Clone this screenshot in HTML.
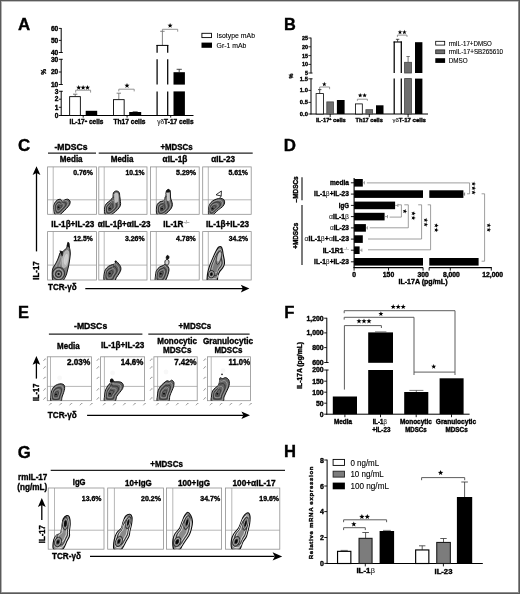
<!DOCTYPE html>
<html><head><meta charset="utf-8"><title>Figure</title>
<style>
html,body{margin:0;padding:0;background:#fff;}
body{width:520px;height:594px;overflow:hidden;font-family:"Liberation Sans",sans-serif;}
svg{display:block;font-family:"Liberation Sans",sans-serif;}
svg text{font-family:"Liberation Sans",sans-serif;}
</style></head><body>
<svg width="520" height="594" viewBox="0 0 520 594">
<defs><filter id="soft" x="0" y="0" width="520" height="594" filterUnits="userSpaceOnUse" color-interpolation-filters="sRGB"><feGaussianBlur stdDeviation="0.42"/></filter></defs>
<rect x="0" y="0" width="520" height="594" fill="#fff"/>
<g filter="url(#soft)">
<rect x="0" y="0" width="520" height="594" fill="#fff"/>
<text x="17.90" y="30.30" font-size="16.9" font-weight="bold" stroke="#000" stroke-width="0.36" textLength="12.20" lengthAdjust="spacingAndGlyphs">A</text>
<text x="284.10" y="30.10" font-size="16.9" font-weight="bold" stroke="#000" stroke-width="0.36" textLength="11.80" lengthAdjust="spacingAndGlyphs">B</text>
<text x="17.90" y="150.70" font-size="16.9" font-weight="bold" stroke="#000" stroke-width="0.36" textLength="12.20" lengthAdjust="spacingAndGlyphs">C</text>
<text x="283.80" y="150.50" font-size="16.9" font-weight="bold" stroke="#000" stroke-width="0.36" textLength="12.20" lengthAdjust="spacingAndGlyphs">D</text>
<text x="18.00" y="318.00" font-size="16.9" font-weight="bold" stroke="#000" stroke-width="0.36" textLength="11.00" lengthAdjust="spacingAndGlyphs">E</text>
<text x="284.20" y="318.00" font-size="16.9" font-weight="bold" stroke="#000" stroke-width="0.36" textLength="10.20" lengthAdjust="spacingAndGlyphs">F</text>
<text x="17.80" y="457.60" font-size="16.9" font-weight="bold" stroke="#000" stroke-width="0.36" textLength="13.00" lengthAdjust="spacingAndGlyphs">G</text>
<text x="284.10" y="457.10" font-size="16.9" font-weight="bold" stroke="#000" stroke-width="0.36" textLength="12.00" lengthAdjust="spacingAndGlyphs">H</text>
<path d="M61.20 28.00L61.20 52.90" stroke="#000" stroke-width="1.0" fill="none"/>
<path d="M61.20 58.90L61.20 84.90" stroke="#000" stroke-width="1.0" fill="none"/>
<path d="M61.20 90.90L61.20 115.90" stroke="#000" stroke-width="1.0" fill="none"/>
<path d="M58.80 28.40L61.20 28.40" stroke="#000" stroke-width="0.9" fill="none"/>
<text x="58.30" y="30.60" font-size="6.6" font-weight="bold" stroke="#000" stroke-width="0.36" text-anchor="end">60</text>
<path d="M58.80 40.40L61.20 40.40" stroke="#000" stroke-width="0.9" fill="none"/>
<text x="58.30" y="42.60" font-size="6.6" font-weight="bold" stroke="#000" stroke-width="0.36" text-anchor="end">50</text>
<path d="M58.80 52.50L62.80 52.50" stroke="#000" stroke-width="0.9" fill="none"/>
<text x="58.30" y="54.70" font-size="6.6" font-weight="bold" stroke="#000" stroke-width="0.36" text-anchor="end">40</text>
<path d="M58.80 59.30L62.80 59.30" stroke="#000" stroke-width="0.9" fill="none"/>
<text x="58.30" y="61.50" font-size="6.6" font-weight="bold" stroke="#000" stroke-width="0.36" text-anchor="end">30</text>
<path d="M58.80 72.00L61.20 72.00" stroke="#000" stroke-width="0.9" fill="none"/>
<text x="58.30" y="74.20" font-size="6.6" font-weight="bold" stroke="#000" stroke-width="0.36" text-anchor="end">20</text>
<path d="M58.80 84.50L62.80 84.50" stroke="#000" stroke-width="0.9" fill="none"/>
<text x="58.30" y="86.70" font-size="6.6" font-weight="bold" stroke="#000" stroke-width="0.36" text-anchor="end">10</text>
<path d="M58.80 91.30L62.80 91.30" stroke="#000" stroke-width="0.9" fill="none"/>
<text x="58.30" y="93.50" font-size="6.6" font-weight="bold" stroke="#000" stroke-width="0.36" text-anchor="end">3</text>
<path d="M58.80 99.20L61.20 99.20" stroke="#000" stroke-width="0.9" fill="none"/>
<text x="58.30" y="101.40" font-size="6.6" font-weight="bold" stroke="#000" stroke-width="0.36" text-anchor="end">2</text>
<path d="M58.80 107.30L61.20 107.30" stroke="#000" stroke-width="0.9" fill="none"/>
<text x="58.30" y="109.50" font-size="6.6" font-weight="bold" stroke="#000" stroke-width="0.36" text-anchor="end">1</text>
<path d="M58.80 115.50L61.20 115.50" stroke="#000" stroke-width="0.9" fill="none"/>
<text x="58.30" y="117.70" font-size="6.6" font-weight="bold" stroke="#000" stroke-width="0.36" text-anchor="end">0</text>
<text x="46.20" y="74.80" font-size="6.6" font-weight="bold" stroke="#000" stroke-width="0.36" transform="rotate(-90 46.20 74.80)">%</text>
<path d="M60.70 115.50L193.50 115.50" stroke="#000" stroke-width="1.0" fill="none"/>
<path d="M75.20 94.20L75.20 96.50" stroke="#555" stroke-width="0.8" fill="none"/>
<path d="M73.00 94.20L77.40 94.20" stroke="#555" stroke-width="0.8" fill="none"/>
<rect x="69.65" y="96.65" width="10.70" height="18.85" fill="#fff" stroke="#000" stroke-width="0.9"/>
<rect x="85.70" y="110.80" width="11.50" height="4.70" fill="#000" stroke="none" stroke-width="0"/>
<path d="M75.70 92.60L75.70 90.20L90.60 90.20L90.60 92.60" stroke="#7a7a7a" stroke-width="0.8" fill="none" />
<polygon points="78.70,85.00 79.34,86.72 81.17,86.80 79.74,87.94 80.23,89.70 78.70,88.69 77.17,89.70 77.66,87.94 76.23,86.80 78.06,86.72" fill="#000"/>
<polygon points="83.10,85.00 83.74,86.72 85.57,86.80 84.14,87.94 84.63,89.70 83.10,88.69 81.57,89.70 82.06,87.94 80.63,86.80 82.46,86.72" fill="#000"/>
<polygon points="87.50,85.00 88.14,86.72 89.97,86.80 88.54,87.94 89.03,89.70 87.50,88.69 85.97,89.70 86.46,87.94 85.03,86.80 86.86,86.72" fill="#000"/>
<path d="M118.80 93.20L118.80 99.50" stroke="#666" stroke-width="0.8" fill="none"/>
<path d="M116.60 93.20L121.00 93.20" stroke="#666" stroke-width="0.8" fill="none"/>
<rect x="113.45" y="99.65" width="10.70" height="15.85" fill="#fff" stroke="#000" stroke-width="0.9"/>
<rect x="129.20" y="112.00" width="12.00" height="3.50" fill="#000" stroke="none" stroke-width="0"/>
<path d="M132.70 111.70L137.70 111.70" stroke="#000" stroke-width="0.6" fill="none"/>
<path d="M118.80 91.40L118.80 89.20L134.20 89.20L134.20 91.40" stroke="#7a7a7a" stroke-width="0.8" fill="none" />
<polygon points="127.00,83.00 127.67,84.78 129.57,84.87 128.08,86.05 128.59,87.88 127.00,86.83 125.41,87.88 125.92,86.05 124.43,84.87 126.33,84.78" fill="#000"/>
<path d="M162.40 31.30L162.40 45.30" stroke="#666" stroke-width="0.8" fill="none"/>
<path d="M160.20 31.30L164.60 31.30" stroke="#666" stroke-width="0.8" fill="none"/>
<path d="M157.10 45.00L157.10 52.70" stroke="#000" stroke-width="1.25" fill="none"/>
<path d="M167.70 45.00L167.70 52.70" stroke="#000" stroke-width="1.25" fill="none"/>
<path d="M157.10 59.20L157.10 84.60" stroke="#000" stroke-width="1.25" fill="none"/>
<path d="M167.70 59.20L167.70 84.60" stroke="#000" stroke-width="1.25" fill="none"/>
<path d="M157.10 91.40L157.10 115.50" stroke="#000" stroke-width="1.25" fill="none"/>
<path d="M167.70 91.40L167.70 115.50" stroke="#000" stroke-width="1.25" fill="none"/>
<path d="M156.50 45.40L168.30 45.40" stroke="#000" stroke-width="1.0" fill="none"/>
<rect x="173.50" y="72.20" width="11.40" height="12.40" fill="#000" stroke="none" stroke-width="0"/>
<rect x="173.50" y="91.40" width="11.40" height="24.10" fill="#000" stroke="none" stroke-width="0"/>
<path d="M179.20 69.30L179.20 72.40" stroke="#222" stroke-width="0.8" fill="none"/>
<path d="M176.60 69.30L181.80 69.30" stroke="#222" stroke-width="0.8" fill="none"/>
<path d="M162.40 31.30L162.40 29.30L177.70 29.30L177.70 31.70" stroke="#7a7a7a" stroke-width="0.8" fill="none" />
<polygon points="170.10,22.90 170.77,24.68 172.67,24.77 171.18,25.95 171.69,27.78 170.10,26.73 168.51,27.78 169.02,25.95 167.53,24.77 169.43,24.68" fill="#000"/>
<path d="M83.20 115.50L83.20 117.60" stroke="#000" stroke-width="0.9" fill="none"/>
<path d="M127.10 115.50L127.10 117.60" stroke="#000" stroke-width="0.9" fill="none"/>
<path d="M170.70 115.50L170.70 117.60" stroke="#000" stroke-width="0.9" fill="none"/>
<text x="69.60" y="124.30" font-size="6.5" font-weight="bold" stroke="#000" stroke-width="0.36" textLength="33.80" lengthAdjust="spacingAndGlyphs">IL-17<tspan font-size="4.2" dy="-2.4">+</tspan><tspan dy="2.4"> cells</tspan></text>
<text x="113.50" y="124.30" font-size="6.5" font-weight="bold" stroke="#000" stroke-width="0.36" textLength="31.90" lengthAdjust="spacingAndGlyphs">Th17 cells</text>
<text x="157.20" y="124.30" font-size="6.5" font-weight="bold" stroke="#000" stroke-width="0.36" textLength="36.40" lengthAdjust="spacingAndGlyphs"><tspan font-weight="normal" fill="#1a1a1a" stroke="#1a1a1a" stroke-width="0.1">γδ</tspan>T-17 cells</text>
<rect x="201.90" y="33.30" width="9.60" height="4.30" fill="#fff" stroke="#000" stroke-width="0.9"/>
<rect x="201.50" y="42.60" width="10.50" height="5.20" fill="#000" stroke="none" stroke-width="0"/>
<text x="216.60" y="38.20" font-size="8.1" stroke="#000" stroke-width="0.12" textLength="38.40" lengthAdjust="spacingAndGlyphs">Isotype mAb</text>
<text x="216.60" y="48.00" font-size="8.1" stroke="#000" stroke-width="0.12" textLength="29.80" lengthAdjust="spacingAndGlyphs">Gr-1 mAb</text>
<path d="M311.00 37.60L311.00 73.40" stroke="#000" stroke-width="1.0" fill="none"/>
<path d="M311.00 78.40L311.00 114.40" stroke="#000" stroke-width="1.0" fill="none"/>
<path d="M308.40 38.00L311.00 38.00" stroke="#000" stroke-width="0.8" fill="none"/>
<text x="307.90" y="39.94" font-size="5.4" font-weight="bold" stroke="#000" stroke-width="0.36" text-anchor="end">25</text>
<path d="M308.40 46.80L311.00 46.80" stroke="#000" stroke-width="0.8" fill="none"/>
<text x="307.90" y="48.74" font-size="5.4" font-weight="bold" stroke="#000" stroke-width="0.36" text-anchor="end">20</text>
<path d="M308.40 55.60L311.00 55.60" stroke="#000" stroke-width="0.8" fill="none"/>
<text x="307.90" y="57.54" font-size="5.4" font-weight="bold" stroke="#000" stroke-width="0.36" text-anchor="end">15</text>
<path d="M308.40 64.40L311.00 64.40" stroke="#000" stroke-width="0.8" fill="none"/>
<text x="307.90" y="66.34" font-size="5.4" font-weight="bold" stroke="#000" stroke-width="0.36" text-anchor="end">10</text>
<path d="M308.40 73.00L312.60 73.00" stroke="#000" stroke-width="0.8" fill="none"/>
<text x="307.90" y="74.94" font-size="5.4" font-weight="bold" stroke="#000" stroke-width="0.36" text-anchor="end">5</text>
<path d="M308.40 78.80L312.60 78.80" stroke="#000" stroke-width="0.8" fill="none"/>
<text x="307.90" y="80.89" font-size="5.8" font-weight="bold" stroke="#000" stroke-width="0.36" text-anchor="end">1.5</text>
<path d="M308.40 90.40L311.00 90.40" stroke="#000" stroke-width="0.8" fill="none"/>
<text x="307.90" y="92.49" font-size="5.8" font-weight="bold" stroke="#000" stroke-width="0.36" text-anchor="end">1.0</text>
<path d="M308.40 102.40L311.00 102.40" stroke="#000" stroke-width="0.8" fill="none"/>
<text x="307.90" y="104.49" font-size="5.8" font-weight="bold" stroke="#000" stroke-width="0.36" text-anchor="end">0.5</text>
<path d="M308.40 114.00L311.00 114.00" stroke="#000" stroke-width="0.8" fill="none"/>
<text x="307.90" y="116.09" font-size="5.8" font-weight="bold" stroke="#000" stroke-width="0.36" text-anchor="end">0.0</text>
<text x="292.60" y="78.40" font-size="5.6" font-weight="bold" stroke="#000" stroke-width="0.36" transform="rotate(-90 292.60 78.40)">%</text>
<path d="M310.50 114.00L428.00 114.00" stroke="#000" stroke-width="1.0" fill="none"/>
<path d="M319.70 89.60L319.70 93.50" stroke="#222" stroke-width="0.8" fill="none"/>
<path d="M318.00 89.60L321.40 89.60" stroke="#222" stroke-width="0.8" fill="none"/>
<rect x="316.10" y="93.60" width="7.30" height="20.40" fill="#fff" stroke="#000" stroke-width="0.8"/>
<rect x="326.80" y="101.90" width="6.60" height="12.10" fill="#6e6e6e" stroke="#444" stroke-width="0.8"/>
<rect x="336.90" y="100.00" width="7.70" height="14.00" fill="#000" stroke="none" stroke-width="0"/>
<path d="M319.70 89.00L319.70 87.00L329.60 87.00L329.60 89.20" stroke="#7a7a7a" stroke-width="0.8" fill="none" />
<polygon points="324.30,81.80 324.89,83.38 326.58,83.46 325.26,84.51 325.71,86.14 324.30,85.21 322.89,86.14 323.34,84.51 322.02,83.46 323.71,83.38" fill="#000"/>
<rect x="355.40" y="103.90" width="6.90" height="10.10" fill="#fff" stroke="#000" stroke-width="0.8"/>
<rect x="365.90" y="109.70" width="6.70" height="4.30" fill="#6e6e6e" stroke="#444" stroke-width="0.8"/>
<rect x="376.00" y="105.30" width="7.50" height="8.70" fill="#000" stroke="none" stroke-width="0"/>
<path d="M357.40 100.80L357.40 99.20L367.40 99.20L367.40 100.80" stroke="#7a7a7a" stroke-width="0.8" fill="none" />
<polygon points="360.20,93.00 360.79,94.58 362.48,94.66 361.16,95.71 361.61,97.34 360.20,96.41 358.79,97.34 359.24,95.71 357.92,94.66 359.61,94.58" fill="#000"/>
<polygon points="364.60,93.00 365.19,94.58 366.88,94.66 365.56,95.71 366.01,97.34 364.60,96.41 363.19,97.34 363.64,95.71 362.32,94.66 364.01,94.58" fill="#000"/>
<path d="M397.60 39.30L397.60 41.80" stroke="#222" stroke-width="0.8" fill="none"/>
<path d="M395.90 39.30L399.30 39.30" stroke="#222" stroke-width="0.8" fill="none"/>
<path d="M394.20 41.50L394.20 73.00" stroke="#000" stroke-width="1.25" fill="none"/>
<path d="M401.30 41.50L401.30 73.00" stroke="#000" stroke-width="1.25" fill="none"/>
<path d="M394.20 78.60L394.20 114.00" stroke="#000" stroke-width="1.25" fill="none"/>
<path d="M401.30 78.60L401.30 114.00" stroke="#000" stroke-width="1.25" fill="none"/>
<path d="M393.60 42.00L401.90 42.00" stroke="#000" stroke-width="1.1" fill="none"/>
<path d="M408.10 56.50L408.10 62.00" stroke="#555" stroke-width="0.8" fill="none"/>
<path d="M406.40 56.50L409.80 56.50" stroke="#555" stroke-width="0.8" fill="none"/>
<rect x="404.60" y="62.30" width="6.90" height="10.70" fill="#6e6e6e" stroke="#444" stroke-width="0.8"/>
<rect x="404.60" y="78.60" width="6.90" height="35.40" fill="#6e6e6e" stroke="#444" stroke-width="0.8"/>
<rect x="415.00" y="42.20" width="7.40" height="30.80" fill="#000" stroke="none" stroke-width="0"/>
<rect x="415.00" y="78.60" width="7.40" height="35.40" fill="#000" stroke="none" stroke-width="0"/>
<path d="M397.40 36.90L397.40 35.10L407.00 35.10L407.00 36.90" stroke="#7a7a7a" stroke-width="0.8" fill="none" />
<polygon points="400.00,29.80 400.59,31.38 402.28,31.46 400.96,32.51 401.41,34.14 400.00,33.21 398.59,34.14 399.04,32.51 397.72,31.46 399.41,31.38" fill="#000"/>
<polygon points="404.40,29.80 404.99,31.38 406.68,31.46 405.36,32.51 405.81,34.14 404.40,33.21 402.99,34.14 403.44,32.51 402.12,31.46 403.81,31.38" fill="#000"/>
<path d="M330.20 114.00L330.20 117.20" stroke="#000" stroke-width="0.9" fill="none"/>
<path d="M369.30 114.00L369.30 117.20" stroke="#000" stroke-width="0.9" fill="none"/>
<path d="M408.10 114.00L408.10 117.20" stroke="#000" stroke-width="0.9" fill="none"/>
<text x="316.00" y="121.80" font-size="5.9" font-weight="bold" stroke="#000" stroke-width="0.36" textLength="29.80" lengthAdjust="spacingAndGlyphs">IL-17<tspan font-size="3.8" dy="-2.2">+</tspan><tspan dy="2.2"> cells</tspan></text>
<text x="355.50" y="121.80" font-size="5.9" font-weight="bold" stroke="#000" stroke-width="0.36" textLength="27.30" lengthAdjust="spacingAndGlyphs">Th17 cells</text>
<text x="392.40" y="121.80" font-size="5.9" font-weight="bold" stroke="#000" stroke-width="0.36" textLength="33.60" lengthAdjust="spacingAndGlyphs"><tspan font-weight="normal" fill="#1a1a1a" stroke="#1a1a1a" stroke-width="0.1">γδ</tspan>T-17 cells</text>
<rect x="435.70" y="41.30" width="9.00" height="3.80" fill="#fff" stroke="#000" stroke-width="0.8"/>
<rect x="435.70" y="49.90" width="9.00" height="3.80" fill="#6e6e6e" stroke="#222" stroke-width="0.8"/>
<rect x="435.30" y="58.20" width="9.80" height="4.70" fill="#000" stroke="none" stroke-width="0"/>
<text x="448.70" y="45.80" font-size="7.3" stroke="#000" stroke-width="0.12" textLength="43.20" lengthAdjust="spacingAndGlyphs">rmIL-17+DMSO</text>
<text x="448.70" y="54.30" font-size="7.3" stroke="#000" stroke-width="0.12" textLength="54.40" lengthAdjust="spacingAndGlyphs">rmIL-17+SB265610</text>
<text x="448.70" y="63.00" font-size="7.3" stroke="#000" stroke-width="0.12" textLength="19.00" lengthAdjust="spacingAndGlyphs">DMSO</text>
<text x="54.50" y="149.60" font-size="8.7" font-weight="bold" stroke="#000" stroke-width="0.36" textLength="33.00" lengthAdjust="spacingAndGlyphs">-MDSCs</text>
<text x="160.40" y="149.60" font-size="8.7" font-weight="bold" stroke="#000" stroke-width="0.36" textLength="32.20" lengthAdjust="spacingAndGlyphs">+MDSCs</text>
<path d="M48.00 153.10L96.00 153.10" stroke="#222" stroke-width="1.3" fill="none"/>
<path d="M98.70 153.10L252.70 153.10" stroke="#222" stroke-width="1.3" fill="none"/>
<text x="59.80" y="162.30" font-size="8.7" font-weight="bold" stroke="#000" stroke-width="0.36" textLength="22.80" lengthAdjust="spacingAndGlyphs">Media</text>
<text x="110.70" y="162.30" font-size="8.7" font-weight="bold" stroke="#000" stroke-width="0.36" textLength="22.80" lengthAdjust="spacingAndGlyphs">Media</text>
<text x="162.60" y="162.30" font-size="8.7" font-weight="bold" stroke="#000" stroke-width="0.36" textLength="24.80" lengthAdjust="spacingAndGlyphs">αIL-1β</text>
<text x="211.20" y="162.30" font-size="8.7" font-weight="bold" stroke="#000" stroke-width="0.36" textLength="23.80" lengthAdjust="spacingAndGlyphs">αIL-23</text>
<text x="51.20" y="226.70" font-size="8.7" font-weight="bold" stroke="#000" stroke-width="0.36" textLength="43.10" lengthAdjust="spacingAndGlyphs">IL-1β+IL-23</text>
<text x="97.80" y="226.70" font-size="8.7" font-weight="bold" stroke="#000" stroke-width="0.36" textLength="52.80" lengthAdjust="spacingAndGlyphs">αIL-1β+αIL-23</text>
<text x="163.20" y="226.70" font-size="8.7" font-weight="bold" stroke="#000" stroke-width="0.36" textLength="26.20" lengthAdjust="spacingAndGlyphs">IL-1R<tspan font-size="4.6" dy="-3.0" font-weight="normal" stroke="none" fill="#333">–/–</tspan></text>
<text x="206.00" y="226.70" font-size="8.7" font-weight="bold" stroke="#000" stroke-width="0.36" textLength="43.10" lengthAdjust="spacingAndGlyphs">IL-1β+IL-23</text>
<clipPath id="c10"><rect x="47.60" y="166.90" width="48.80" height="47.40"/></clipPath>
<rect x="47.60" y="166.90" width="48.80" height="47.40" fill="#fff" stroke="#909090" stroke-width="0.8"/>
<path d="M53.20 166.90L53.20 214.30" stroke="#989898" stroke-width="0.7" fill="none"/>
<path d="M47.60 199.80L96.40 199.80" stroke="#989898" stroke-width="0.7" fill="none"/>
<clipPath id="c20"><rect x="47.60" y="231.60" width="48.80" height="48.40"/></clipPath>
<rect x="47.60" y="231.60" width="48.80" height="48.40" fill="#fff" stroke="#909090" stroke-width="0.8"/>
<path d="M53.20 231.60L53.20 280.00" stroke="#989898" stroke-width="0.7" fill="none"/>
<path d="M47.60 265.10L96.40 265.10" stroke="#989898" stroke-width="0.7" fill="none"/>
<clipPath id="c11"><rect x="98.80" y="166.90" width="48.20" height="47.40"/></clipPath>
<rect x="98.80" y="166.90" width="48.20" height="47.40" fill="#fff" stroke="#909090" stroke-width="0.8"/>
<path d="M104.20 166.90L104.20 214.30" stroke="#989898" stroke-width="0.7" fill="none"/>
<path d="M98.80 199.80L147.00 199.80" stroke="#989898" stroke-width="0.7" fill="none"/>
<clipPath id="c21"><rect x="98.80" y="231.60" width="48.20" height="48.40"/></clipPath>
<rect x="98.80" y="231.60" width="48.20" height="48.40" fill="#fff" stroke="#909090" stroke-width="0.8"/>
<path d="M104.20 231.60L104.20 280.00" stroke="#989898" stroke-width="0.7" fill="none"/>
<path d="M98.80 265.10L147.00 265.10" stroke="#989898" stroke-width="0.7" fill="none"/>
<clipPath id="c12"><rect x="150.40" y="166.90" width="48.80" height="47.40"/></clipPath>
<rect x="150.40" y="166.90" width="48.80" height="47.40" fill="#fff" stroke="#909090" stroke-width="0.8"/>
<path d="M156.30 166.90L156.30 214.30" stroke="#989898" stroke-width="0.7" fill="none"/>
<path d="M150.40 199.80L199.20 199.80" stroke="#989898" stroke-width="0.7" fill="none"/>
<clipPath id="c22"><rect x="150.40" y="231.60" width="48.80" height="48.40"/></clipPath>
<rect x="150.40" y="231.60" width="48.80" height="48.40" fill="#fff" stroke="#909090" stroke-width="0.8"/>
<path d="M156.30 231.60L156.30 280.00" stroke="#989898" stroke-width="0.7" fill="none"/>
<path d="M150.40 265.10L199.20 265.10" stroke="#989898" stroke-width="0.7" fill="none"/>
<clipPath id="c13"><rect x="202.70" y="166.90" width="48.50" height="47.40"/></clipPath>
<rect x="202.70" y="166.90" width="48.50" height="47.40" fill="#fff" stroke="#909090" stroke-width="0.8"/>
<path d="M208.30 166.90L208.30 214.30" stroke="#989898" stroke-width="0.7" fill="none"/>
<path d="M202.70 199.80L251.20 199.80" stroke="#989898" stroke-width="0.7" fill="none"/>
<clipPath id="c23"><rect x="202.70" y="231.60" width="48.50" height="48.40"/></clipPath>
<rect x="202.70" y="231.60" width="48.50" height="48.40" fill="#fff" stroke="#909090" stroke-width="0.8"/>
<path d="M208.30 231.60L208.30 280.00" stroke="#989898" stroke-width="0.7" fill="none"/>
<path d="M202.70 265.10L251.20 265.10" stroke="#989898" stroke-width="0.7" fill="none"/>
<text x="73.20" y="174.80" font-size="7.5" font-weight="bold" stroke="#000" stroke-width="0.36" textLength="19.60" lengthAdjust="spacingAndGlyphs">0.76%</text>
<text x="125.40" y="174.80" font-size="7.5" font-weight="bold" stroke="#000" stroke-width="0.36" textLength="19.20" lengthAdjust="spacingAndGlyphs">10.1%</text>
<text x="176.00" y="174.80" font-size="7.5" font-weight="bold" stroke="#000" stroke-width="0.36" textLength="20.00" lengthAdjust="spacingAndGlyphs">5.29%</text>
<text x="228.40" y="174.80" font-size="7.5" font-weight="bold" stroke="#000" stroke-width="0.36" textLength="19.60" lengthAdjust="spacingAndGlyphs">5.61%</text>
<text x="73.60" y="241.10" font-size="7.5" font-weight="bold" stroke="#000" stroke-width="0.36" textLength="19.20" lengthAdjust="spacingAndGlyphs">12.5%</text>
<text x="125.00" y="241.10" font-size="7.5" font-weight="bold" stroke="#000" stroke-width="0.36" textLength="19.60" lengthAdjust="spacingAndGlyphs">3.26%</text>
<text x="176.00" y="241.10" font-size="7.5" font-weight="bold" stroke="#000" stroke-width="0.36" textLength="19.80" lengthAdjust="spacingAndGlyphs">4.78%</text>
<text x="228.80" y="241.10" font-size="7.5" font-weight="bold" stroke="#000" stroke-width="0.36" textLength="19.20" lengthAdjust="spacingAndGlyphs">34.2%</text>
<g clip-path="url(#c10)">
<path d="M53.80 207.50C53.73 205.60 53.98 204.47 54.60 203.20C55.22 201.93 56.50 200.53 57.50 199.90C58.50 199.27 59.75 199.15 60.60 199.40C61.45 199.65 61.93 201.30 62.60 201.40C63.27 201.50 63.77 200.37 64.60 200.00C65.43 199.63 66.70 199.03 67.60 199.20C68.50 199.37 69.67 200.10 70.00 201.00C70.33 201.90 70.20 203.33 69.60 204.60C69.00 205.87 67.63 207.23 66.40 208.60C65.17 209.97 63.47 211.65 62.20 212.80C60.93 213.95 60.00 215.20 58.80 215.50C57.60 215.80 55.83 215.93 55.00 214.60C54.17 213.27 53.87 209.40 53.80 207.50Z" stroke="#161616" stroke-width="1.0" fill="#626262" />
<path d="M54.66 207.45C54.61 205.89 54.81 204.96 55.32 203.92C55.83 202.88 56.88 201.73 57.70 201.21C58.52 200.69 59.54 200.60 60.24 200.80C60.94 201.01 61.33 202.36 61.88 202.44C62.43 202.53 62.84 201.60 63.52 201.30C64.20 201.00 65.24 200.50 65.98 200.64C66.72 200.78 67.67 201.38 67.95 202.12C68.22 202.85 68.11 204.03 67.62 205.07C67.13 206.11 66.01 207.23 65.00 208.35C63.98 209.47 62.59 210.85 61.55 211.79C60.51 212.74 59.75 213.76 58.76 214.01C57.78 214.25 56.33 214.36 55.65 213.27C54.96 212.17 54.72 209.00 54.66 207.45Z" stroke="#b4b4b4" stroke-width="0.7" fill="none" />
<path d="M55.53 207.39C55.49 206.18 55.65 205.45 56.04 204.64C56.43 203.83 57.26 202.93 57.90 202.53C58.54 202.12 59.34 202.05 59.88 202.21C60.42 202.37 60.73 203.42 61.16 203.49C61.59 203.55 61.91 202.83 62.44 202.59C62.97 202.36 63.78 201.97 64.36 202.08C64.94 202.19 65.68 202.66 65.90 203.23C66.11 203.81 66.02 204.73 65.64 205.54C65.26 206.35 64.38 207.22 63.59 208.10C62.80 208.97 61.71 210.05 60.90 210.78C60.09 211.52 59.50 212.32 58.73 212.51C57.96 212.70 56.83 212.79 56.30 211.94C55.76 211.08 55.57 208.61 55.53 207.39Z" stroke="#1a1a1a" stroke-width="0.6" fill="none" />
<path d="M56.39 207.34C56.36 206.46 56.48 205.94 56.76 205.36C57.04 204.78 57.63 204.13 58.09 203.84C58.55 203.55 59.13 203.50 59.52 203.61C59.91 203.73 60.13 204.49 60.44 204.53C60.75 204.58 60.98 204.06 61.36 203.89C61.74 203.72 62.33 203.44 62.74 203.52C63.15 203.60 63.69 203.93 63.84 204.35C64.00 204.76 63.94 205.42 63.66 206.00C63.38 206.59 62.76 207.22 62.19 207.84C61.62 208.47 60.84 209.25 60.26 209.78C59.67 210.31 59.24 210.88 58.69 211.02C58.14 211.16 57.33 211.22 56.94 210.60C56.56 209.99 56.42 208.21 56.39 207.34Z" stroke="#b0b0b0" stroke-width="0.6" fill="none" />
<path d="M57.26 207.28C57.24 206.75 57.31 206.43 57.48 206.08C57.65 205.73 58.01 205.33 58.29 205.16C58.57 204.98 58.92 204.95 59.16 205.02C59.40 205.09 59.53 205.55 59.72 205.58C59.91 205.60 60.05 205.29 60.28 205.18C60.51 205.08 60.87 204.91 61.12 204.96C61.37 205.01 61.70 205.21 61.79 205.46C61.89 205.72 61.85 206.12 61.68 206.47C61.51 206.83 61.13 207.21 60.78 207.59C60.44 207.97 59.96 208.45 59.61 208.77C59.25 209.09 58.99 209.44 58.66 209.52C58.32 209.61 57.83 209.65 57.59 209.27C57.36 208.90 57.27 207.82 57.26 207.28Z" stroke="#222222" stroke-width="0.55" fill="none" />
<circle cx="58.60" cy="207.20" r="1.0" fill="#0c0c0c"/>
</g>
<g clip-path="url(#c11)">
<path d="M104.60 208.00C104.80 206.17 105.47 204.83 106.40 203.60C107.33 202.37 109.13 201.70 110.20 200.60C111.27 199.50 112.27 198.30 112.80 197.00C113.33 195.70 112.87 193.80 113.40 192.80C113.93 191.80 115.07 191.10 116.00 191.00C116.93 190.90 118.37 191.27 119.00 192.20C119.63 193.13 119.57 195.03 119.80 196.60C120.03 198.17 120.30 200.10 120.40 201.60C120.50 203.10 120.87 204.27 120.40 205.60C119.93 206.93 118.77 208.33 117.60 209.60C116.43 210.87 114.77 212.20 113.40 213.20C112.03 214.20 110.77 215.37 109.40 215.60C108.03 215.83 106.00 215.87 105.20 214.60C104.40 213.33 104.40 209.83 104.60 208.00Z" stroke="#161616" stroke-width="1.0" fill="#626262" />
<path d="M105.55 208.07C105.72 206.57 106.26 205.48 107.03 204.46C107.80 203.45 109.27 202.91 110.15 202.00C111.02 201.10 111.84 200.12 112.28 199.05C112.72 197.99 112.33 196.43 112.77 195.61C113.21 194.79 114.14 194.21 114.90 194.13C115.67 194.05 116.84 194.35 117.36 195.12C117.88 195.88 117.83 197.44 118.02 198.72C118.21 200.01 118.43 201.59 118.51 202.82C118.59 204.05 118.89 205.01 118.51 206.10C118.13 207.20 117.17 208.35 116.21 209.38C115.26 210.42 113.89 211.52 112.77 212.34C111.65 213.16 110.61 214.11 109.49 214.30C108.37 214.50 106.70 214.52 106.05 213.48C105.39 212.45 105.39 209.58 105.55 208.07Z" stroke="#b4b4b4" stroke-width="0.7" fill="none" />
<path d="M106.51 208.14C106.64 206.97 107.06 206.12 107.66 205.33C108.26 204.54 109.41 204.11 110.09 203.41C110.77 202.70 111.41 201.94 111.76 201.10C112.10 200.27 111.80 199.06 112.14 198.42C112.48 197.78 113.21 197.33 113.80 197.26C114.40 197.20 115.32 197.43 115.72 198.03C116.13 198.63 116.09 199.85 116.24 200.85C116.39 201.85 116.56 203.09 116.62 204.05C116.68 205.01 116.92 205.75 116.62 206.61C116.32 207.46 115.57 208.36 114.83 209.17C114.08 209.98 113.01 210.83 112.14 211.47C111.27 212.11 110.45 212.86 109.58 213.01C108.71 213.16 107.40 213.18 106.89 212.37C106.38 211.56 106.38 209.32 106.51 208.14Z" stroke="#1a1a1a" stroke-width="0.6" fill="none" />
<path d="M107.46 208.22C107.55 207.37 107.86 206.76 108.29 206.19C108.72 205.62 109.55 205.32 110.04 204.81C110.53 204.31 110.99 203.75 111.23 203.16C111.48 202.56 111.26 201.68 111.51 201.22C111.76 200.76 112.28 200.44 112.71 200.40C113.14 200.35 113.79 200.52 114.09 200.95C114.38 201.38 114.35 202.25 114.45 202.97C114.56 203.69 114.68 204.58 114.73 205.27C114.78 205.96 114.94 206.50 114.73 207.11C114.52 207.73 113.98 208.37 113.44 208.95C112.91 209.53 112.14 210.15 111.51 210.61C110.88 211.07 110.30 211.60 109.67 211.71C109.04 211.82 108.11 211.83 107.74 211.25C107.37 210.67 107.37 209.06 107.46 208.22Z" stroke="#b0b0b0" stroke-width="0.6" fill="none" />
<path d="M108.42 208.29C108.47 207.77 108.66 207.40 108.92 207.06C109.18 206.71 109.69 206.52 109.98 206.22C110.28 205.91 110.56 205.57 110.71 205.21C110.86 204.84 110.73 204.31 110.88 204.03C111.03 203.75 111.35 203.56 111.61 203.53C111.87 203.50 112.27 203.60 112.45 203.86C112.63 204.13 112.61 204.66 112.67 205.10C112.74 205.53 112.81 206.08 112.84 206.50C112.87 206.92 112.97 207.24 112.84 207.62C112.71 207.99 112.38 208.38 112.06 208.74C111.73 209.09 111.26 209.46 110.88 209.74C110.50 210.02 110.14 210.35 109.76 210.42C109.38 210.48 108.81 210.49 108.58 210.14C108.36 209.78 108.36 208.80 108.42 208.29Z" stroke="#222222" stroke-width="0.55" fill="none" />
<circle cx="109.90" cy="208.40" r="1.0" fill="#0c0c0c"/>
</g>
<path d="M115.00 193.60C115.50 192.80 117.07 192.83 117.60 193.40C118.13 193.97 118.20 195.63 118.20 197.00C118.20 198.37 118.07 200.67 117.60 201.60C117.13 202.53 115.90 203.17 115.40 202.60C114.90 202.03 114.67 199.70 114.60 198.20C114.53 196.70 114.50 194.40 115.00 193.60Z" stroke="#ddd" stroke-width="0.5" fill="#bdbdbd" />
<g clip-path="url(#c12)">
<path d="M156.40 209.50C156.43 207.87 156.60 205.88 157.20 204.60C157.80 203.32 158.93 202.43 160.00 201.80C161.07 201.17 162.70 201.33 163.60 200.80C164.50 200.27 165.03 199.63 165.40 198.60C165.77 197.57 165.63 195.87 165.80 194.60C165.97 193.33 166.00 191.87 166.40 191.00C166.80 190.13 167.60 189.50 168.20 189.40C168.80 189.30 169.63 189.63 170.00 190.40C170.37 191.17 170.30 192.73 170.40 194.00C170.50 195.27 170.40 196.83 170.60 198.00C170.80 199.17 171.30 199.93 171.60 201.00C171.90 202.07 172.43 203.23 172.40 204.40C172.37 205.57 172.07 206.80 171.40 208.00C170.73 209.20 169.57 210.50 168.40 211.60C167.23 212.70 165.80 213.87 164.40 214.60C163.00 215.33 161.23 216.03 160.00 216.00C158.77 215.97 157.60 215.48 157.00 214.40C156.40 213.32 156.37 211.13 156.40 209.50Z" stroke="#161616" stroke-width="1.0" fill="#626262" />
<path d="M157.41 209.37C157.44 208.03 157.57 206.41 158.06 205.36C158.56 204.30 159.49 203.58 160.36 203.06C161.23 202.54 162.57 202.68 163.31 202.24C164.05 201.80 164.49 201.28 164.79 200.44C165.09 199.59 164.98 198.19 165.12 197.16C165.25 196.12 165.28 194.91 165.61 194.20C165.94 193.49 166.59 192.97 167.08 192.89C167.58 192.81 168.26 193.08 168.56 193.71C168.86 194.34 168.81 195.63 168.89 196.66C168.97 197.70 168.89 198.99 169.05 199.94C169.22 200.90 169.63 201.53 169.87 202.40C170.12 203.28 170.56 204.24 170.53 205.19C170.50 206.15 170.25 207.16 169.71 208.14C169.16 209.13 168.20 210.19 167.25 211.10C166.29 212.00 165.12 212.95 163.97 213.56C162.82 214.16 161.37 214.73 160.36 214.70C159.35 214.68 158.39 214.28 157.90 213.39C157.41 212.50 157.38 210.71 157.41 209.37Z" stroke="#b4b4b4" stroke-width="0.7" fill="none" />
<path d="M158.42 209.25C158.44 208.20 158.54 206.93 158.93 206.11C159.31 205.29 160.04 204.73 160.72 204.32C161.40 203.91 162.45 204.02 163.02 203.68C163.60 203.34 163.94 202.93 164.18 202.27C164.41 201.61 164.33 200.52 164.43 199.71C164.54 198.90 164.56 197.96 164.82 197.41C165.07 196.85 165.58 196.45 165.97 196.38C166.35 196.32 166.89 196.53 167.12 197.02C167.35 197.51 167.31 198.52 167.38 199.33C167.44 200.14 167.38 201.14 167.50 201.89C167.63 202.63 167.95 203.13 168.14 203.81C168.34 204.49 168.68 205.24 168.66 205.98C168.63 206.73 168.44 207.52 168.02 208.29C167.59 209.06 166.84 209.89 166.10 210.59C165.35 211.30 164.43 212.04 163.54 212.51C162.64 212.98 161.51 213.43 160.72 213.41C159.93 213.39 159.18 213.08 158.80 212.38C158.42 211.69 158.39 210.29 158.42 209.25Z" stroke="#1a1a1a" stroke-width="0.6" fill="none" />
<path d="M159.42 209.12C159.44 208.37 159.52 207.46 159.79 206.87C160.07 206.28 160.59 205.87 161.08 205.58C161.57 205.29 162.32 205.37 162.74 205.12C163.15 204.87 163.40 204.58 163.56 204.11C163.73 203.63 163.67 202.85 163.75 202.27C163.82 201.69 163.84 201.01 164.02 200.61C164.21 200.21 164.58 199.92 164.85 199.88C165.13 199.83 165.51 199.98 165.68 200.34C165.85 200.69 165.82 201.41 165.86 201.99C165.91 202.57 165.86 203.30 165.96 203.83C166.05 204.37 166.28 204.72 166.42 205.21C166.55 205.70 166.80 206.24 166.78 206.78C166.77 207.31 166.63 207.88 166.32 208.43C166.02 208.98 165.48 209.58 164.94 210.09C164.41 210.59 163.75 211.13 163.10 211.47C162.46 211.81 161.65 212.13 161.08 212.11C160.51 212.10 159.98 211.87 159.70 211.38C159.42 210.88 159.41 209.87 159.42 209.12Z" stroke="#b0b0b0" stroke-width="0.6" fill="none" />
<path d="M160.43 209.00C160.44 208.54 160.49 207.98 160.66 207.62C160.82 207.26 161.14 207.02 161.44 206.84C161.74 206.66 162.20 206.71 162.45 206.56C162.70 206.41 162.85 206.23 162.95 205.94C163.05 205.65 163.02 205.18 163.06 204.82C163.11 204.47 163.12 204.06 163.23 203.82C163.34 203.57 163.57 203.40 163.74 203.37C163.90 203.34 164.14 203.43 164.24 203.65C164.34 203.86 164.32 204.30 164.35 204.66C164.38 205.01 164.35 205.45 164.41 205.78C164.46 206.10 164.60 206.32 164.69 206.62C164.77 206.91 164.92 207.24 164.91 207.57C164.90 207.89 164.82 208.24 164.63 208.58C164.45 208.91 164.12 209.28 163.79 209.58C163.47 209.89 163.06 210.22 162.67 210.42C162.28 210.63 161.79 210.83 161.44 210.82C161.09 210.81 160.77 210.67 160.60 210.37C160.43 210.06 160.42 209.45 160.43 209.00Z" stroke="#222222" stroke-width="0.55" fill="none" />
<circle cx="162.00" cy="208.80" r="1.0" fill="#0c0c0c"/>
</g>
<path d="M167.20 192.60C167.57 191.93 168.83 191.77 169.20 192.40C169.57 193.03 169.37 195.13 169.40 196.40C169.43 197.67 169.73 199.30 169.40 200.00C169.07 200.70 167.80 201.20 167.40 200.60C167.00 200.00 167.03 197.73 167.00 196.40C166.97 195.07 166.83 193.27 167.20 192.60Z" stroke="#ddd" stroke-width="0.5" fill="#c4c4c4" />
<path d="M166.60 191.20C166.80 190.77 167.67 189.70 168.20 189.60C168.73 189.50 169.60 190.20 169.80 190.60C170.00 191.00 169.87 191.73 169.40 192.00C168.93 192.27 167.47 192.33 167.00 192.20C166.53 192.07 166.40 191.63 166.60 191.20Z" stroke="#111" stroke-width="0.5" fill="#111" />
<g clip-path="url(#c13)">
<path d="M208.60 209.00C208.73 207.27 208.93 205.73 209.60 204.40C210.27 203.07 211.43 201.90 212.60 201.00C213.77 200.10 215.27 199.43 216.60 199.00C217.93 198.57 219.40 198.30 220.60 198.40C221.80 198.50 223.13 198.83 223.80 199.60C224.47 200.37 224.80 201.83 224.60 203.00C224.40 204.17 223.60 205.50 222.60 206.60C221.60 207.70 219.87 208.53 218.60 209.60C217.33 210.67 216.10 212.00 215.00 213.00C213.90 214.00 213.03 215.30 212.00 215.60C210.97 215.90 209.37 215.90 208.80 214.80C208.23 213.70 208.47 210.73 208.60 209.00Z" stroke="#161616" stroke-width="1.0" fill="#626262" />
<path d="M209.32 208.89C209.43 207.47 209.59 206.21 210.14 205.12C210.69 204.03 211.64 203.07 212.60 202.33C213.56 201.59 214.79 201.05 215.88 200.69C216.97 200.34 218.18 200.12 219.16 200.20C220.14 200.28 221.24 200.56 221.78 201.18C222.33 201.81 222.60 203.02 222.44 203.97C222.28 204.93 221.62 206.02 220.80 206.92C219.98 207.83 218.56 208.51 217.52 209.38C216.48 210.26 215.47 211.35 214.57 212.17C213.67 212.99 212.96 214.06 212.11 214.30C211.26 214.55 209.95 214.55 209.48 213.65C209.02 212.75 209.21 210.31 209.32 208.89Z" stroke="#b4b4b4" stroke-width="0.7" fill="none" />
<path d="M210.04 208.78C210.13 207.67 210.25 206.69 210.68 205.84C211.11 204.99 211.85 204.24 212.60 203.66C213.35 203.09 214.31 202.66 215.16 202.38C216.01 202.11 216.95 201.94 217.72 202.00C218.49 202.06 219.34 202.28 219.77 202.77C220.19 203.26 220.41 204.20 220.28 204.94C220.15 205.69 219.64 206.54 219.00 207.25C218.36 207.95 217.25 208.49 216.44 209.17C215.63 209.85 214.84 210.70 214.14 211.34C213.43 211.98 212.88 212.82 212.22 213.01C211.55 213.20 210.53 213.20 210.17 212.50C209.81 211.79 209.95 209.89 210.04 208.78Z" stroke="#1a1a1a" stroke-width="0.6" fill="none" />
<path d="M210.76 208.68C210.82 207.88 210.91 207.17 211.22 206.56C211.53 205.95 212.06 205.41 212.60 205.00C213.14 204.58 213.83 204.28 214.44 204.08C215.05 203.88 215.73 203.75 216.28 203.80C216.83 203.85 217.45 204.00 217.75 204.35C218.06 204.70 218.21 205.38 218.12 205.92C218.03 206.45 217.66 207.07 217.20 207.57C216.74 208.08 215.94 208.46 215.36 208.95C214.78 209.44 214.21 210.06 213.70 210.52C213.20 210.98 212.80 211.57 212.32 211.71C211.85 211.85 211.11 211.85 210.85 211.34C210.59 210.84 210.70 209.47 210.76 208.68Z" stroke="#b0b0b0" stroke-width="0.6" fill="none" />
<path d="M211.48 208.57C211.52 208.08 211.57 207.65 211.76 207.28C211.95 206.91 212.27 206.58 212.60 206.33C212.93 206.08 213.35 205.89 213.72 205.77C214.09 205.65 214.50 205.57 214.84 205.60C215.18 205.63 215.55 205.72 215.74 205.94C215.92 206.15 216.02 206.56 215.96 206.89C215.90 207.21 215.68 207.59 215.40 207.90C215.12 208.20 214.63 208.44 214.28 208.74C213.93 209.03 213.58 209.41 213.27 209.69C212.96 209.97 212.72 210.33 212.43 210.42C212.14 210.50 211.69 210.50 211.54 210.19C211.38 209.88 211.44 209.05 211.48 208.57Z" stroke="#222222" stroke-width="0.55" fill="none" />
<circle cx="212.60" cy="208.40" r="1.0" fill="#0c0c0c"/>
</g>
<path d="M216.0 194.8L221.4 191.0L221.2 196.0L219.4 198.6M221.2 196.0L216.0 194.8" stroke="#1c1c1c" stroke-width="0.9" fill="#fff" />
<g clip-path="url(#c20)">
<path d="M53.00 280.40C52.03 278.97 52.20 275.07 52.20 273.00C52.20 270.93 52.45 269.50 53.00 268.00C53.55 266.50 54.75 265.33 55.50 264.00C56.25 262.67 56.92 261.33 57.50 260.00C58.08 258.67 58.55 257.23 59.00 256.00C59.45 254.77 59.63 253.30 60.20 252.60C60.77 251.90 61.70 252.23 62.40 251.80C63.10 251.37 63.77 250.53 64.40 250.00C65.03 249.47 65.73 249.27 66.20 248.60C66.67 247.93 66.87 246.93 67.20 246.00C67.53 245.07 67.90 243.27 68.20 243.00C68.50 242.73 68.82 243.73 69.00 244.40C69.18 245.07 69.13 246.07 69.30 247.00C69.47 247.93 69.83 248.83 70.00 250.00C70.17 251.17 70.32 252.67 70.30 254.00C70.28 255.33 70.07 256.67 69.90 258.00C69.73 259.33 69.52 260.67 69.30 262.00C69.08 263.33 68.88 264.67 68.60 266.00C68.32 267.33 67.93 268.67 67.60 270.00C67.27 271.33 67.03 272.73 66.60 274.00C66.17 275.27 65.60 276.53 65.00 277.60C64.40 278.67 64.17 279.73 63.00 280.40C61.83 281.07 59.67 281.60 58.00 281.60C56.33 281.60 53.97 281.83 53.00 280.40Z" stroke="#161616" stroke-width="1.0" fill="#7e7e7e" />
<path d="M62.00 262.00C62.13 260.27 62.63 257.77 63.20 256.00C63.77 254.23 64.57 252.23 65.40 251.40C66.23 250.57 67.63 250.23 68.20 251.00C68.77 251.77 68.83 254.33 68.80 256.00C68.77 257.67 68.33 259.40 68.00 261.00C67.67 262.60 67.37 264.50 66.80 265.60C66.23 266.70 65.33 267.47 64.60 267.60C63.87 267.73 62.83 267.33 62.40 266.40C61.97 265.47 61.87 263.73 62.00 262.00Z" stroke="#d8d8d8" stroke-width="0.5" fill="#b4b4b4" />
<path d="M64.00 261.00C63.97 259.67 64.53 257.77 65.00 256.60C65.47 255.43 66.37 253.93 66.80 254.00C67.23 254.07 67.60 255.73 67.60 257.00C67.60 258.27 67.20 260.33 66.80 261.60C66.40 262.87 65.67 264.70 65.20 264.60C64.73 264.50 64.03 262.33 64.00 261.00Z" stroke="#e8e8e8" stroke-width="0.4" fill="#cdcdcd" />
<path d="M56.00 266.00C56.03 264.83 57.83 262.57 58.60 261.00C59.37 259.43 60.10 256.93 60.60 256.60C61.10 256.27 61.67 257.77 61.60 259.00C61.53 260.23 60.73 262.50 60.20 264.00C59.67 265.50 59.10 267.67 58.40 268.00C57.70 268.33 55.97 267.17 56.00 266.00Z" stroke="#c8c8c8" stroke-width="0.5" fill="none" />
<ellipse cx="58.60" cy="273.60" rx="6.00" ry="6.40" transform="rotate(15 58.60 273.60)" fill="#6a6a6a" stroke="#1a1a1a" stroke-width="0.7"/>
<ellipse cx="58.60" cy="273.80" rx="4.50" ry="4.80" transform="rotate(15 58.60 273.80)" fill="none" stroke="#cfcfcf" stroke-width="0.6"/>
<ellipse cx="58.60" cy="274.00" rx="3.10" ry="3.30" transform="rotate(15 58.60 274.00)" fill="#5a5a5a" stroke="#1a1a1a" stroke-width="0.6"/>
<ellipse cx="58.60" cy="274.00" rx="1.80" ry="1.90" transform="rotate(15 58.60 274.00)" fill="none" stroke="#c4c4c4" stroke-width="0.5"/>
<ellipse cx="58.60" cy="274.00" rx="0.90" ry="0.90" transform="rotate(0 58.60 274.00)" fill="#0c0c0c" stroke="none" stroke-width="0.5"/>
<path d="M59.8 250.8L62.6 251.8L62.2 255.8Z" stroke="#111" stroke-width="0.6" fill="#111" />
<path d="M67.0 246.0L67.8 242.2L69.0 242.8L69.2 247.0Z" stroke="#111" stroke-width="0.6" fill="#111" />
</g>
<g clip-path="url(#c21)">
<path d="M104.20 274.00C104.45 272.43 104.70 270.87 105.40 269.60C106.10 268.33 107.23 267.23 108.40 266.40C109.57 265.57 111.27 265.07 112.40 264.60C113.53 264.13 114.70 264.20 115.20 263.60C115.70 263.00 115.10 261.30 115.40 261.00C115.70 260.70 116.43 261.30 117.00 261.80C117.57 262.30 118.20 263.20 118.80 264.00C119.40 264.80 120.27 265.60 120.60 266.60C120.93 267.60 121.07 268.80 120.80 270.00C120.53 271.20 119.73 272.53 119.00 273.80C118.27 275.07 117.30 276.13 116.40 277.60C115.50 279.07 115.33 281.63 113.60 282.60C111.87 283.57 107.62 284.00 106.00 283.40C104.38 282.80 104.20 280.57 103.90 279.00C103.60 277.43 103.95 275.57 104.20 274.00Z" stroke="#161616" stroke-width="1.0" fill="#626262" />
<path d="M105.21 273.93C105.41 272.64 105.62 271.36 106.19 270.32C106.77 269.28 107.70 268.38 108.65 267.70C109.61 267.01 111.00 266.60 111.93 266.22C112.86 265.84 113.82 265.89 114.23 265.40C114.64 264.91 114.15 263.51 114.39 263.27C114.64 263.02 115.24 263.51 115.70 263.92C116.17 264.33 116.69 265.07 117.18 265.73C117.67 266.38 118.38 267.04 118.66 267.86C118.93 268.68 119.04 269.66 118.82 270.65C118.60 271.63 117.95 272.73 117.34 273.76C116.74 274.80 115.95 275.68 115.21 276.88C114.47 278.08 114.34 280.19 112.92 280.98C111.49 281.77 108.01 282.13 106.68 281.64C105.36 281.14 105.21 279.31 104.96 278.03C104.72 276.74 105.00 275.21 105.21 273.93Z" stroke="#b4b4b4" stroke-width="0.7" fill="none" />
<path d="M106.22 273.86C106.38 272.85 106.54 271.85 106.98 271.04C107.43 270.23 108.16 269.53 108.90 268.99C109.65 268.46 110.74 268.14 111.46 267.84C112.19 267.54 112.94 267.58 113.26 267.20C113.58 266.82 113.19 265.73 113.38 265.54C113.58 265.34 114.05 265.73 114.41 266.05C114.77 266.37 115.18 266.94 115.56 267.46C115.94 267.97 116.50 268.48 116.71 269.12C116.93 269.76 117.01 270.53 116.84 271.30C116.67 272.06 116.16 272.92 115.69 273.73C115.22 274.54 114.60 275.22 114.02 276.16C113.45 277.10 113.34 278.74 112.23 279.36C111.12 279.98 108.40 280.26 107.37 279.87C106.33 279.49 106.22 278.06 106.02 277.06C105.83 276.05 106.06 274.86 106.22 273.86Z" stroke="#1a1a1a" stroke-width="0.6" fill="none" />
<path d="M107.22 273.78C107.34 273.06 107.45 272.34 107.78 271.76C108.10 271.18 108.62 270.67 109.16 270.29C109.69 269.90 110.47 269.67 111.00 269.46C111.52 269.25 112.05 269.28 112.28 269.00C112.51 268.72 112.24 267.94 112.38 267.80C112.51 267.67 112.85 267.94 113.11 268.17C113.37 268.40 113.66 268.82 113.94 269.18C114.22 269.55 114.61 269.92 114.77 270.38C114.92 270.84 114.98 271.39 114.86 271.94C114.74 272.50 114.37 273.11 114.03 273.69C113.69 274.27 113.25 274.77 112.84 275.44C112.42 276.11 112.35 277.30 111.55 277.74C110.75 278.18 108.80 278.38 108.05 278.11C107.31 277.83 107.22 276.80 107.09 276.08C106.95 275.36 107.11 274.50 107.22 273.78Z" stroke="#b0b0b0" stroke-width="0.6" fill="none" />
<path d="M108.23 273.71C108.30 273.27 108.37 272.83 108.57 272.48C108.76 272.13 109.08 271.82 109.41 271.58C109.73 271.35 110.21 271.21 110.53 271.08C110.85 270.95 111.17 270.97 111.31 270.80C111.45 270.63 111.28 270.16 111.37 270.07C111.45 269.99 111.66 270.16 111.82 270.30C111.97 270.44 112.15 270.69 112.32 270.91C112.49 271.14 112.73 271.36 112.82 271.64C112.92 271.92 112.95 272.26 112.88 272.59C112.81 272.93 112.58 273.30 112.38 273.66C112.17 274.01 111.90 274.31 111.65 274.72C111.40 275.13 111.35 275.85 110.86 276.12C110.38 276.39 109.19 276.51 108.74 276.34C108.28 276.18 108.23 275.55 108.15 275.11C108.06 274.67 108.16 274.15 108.23 273.71Z" stroke="#222222" stroke-width="0.55" fill="none" />
<circle cx="109.80" cy="273.60" r="1.0" fill="#0c0c0c"/>
</g>
<circle cx="115.6" cy="261.6" r="0.9" fill="#111"/>
<g clip-path="url(#c22)">
<path d="M155.60 275.00C155.77 272.90 155.93 271.73 156.60 270.40C157.27 269.07 158.53 267.80 159.60 267.00C160.67 266.20 162.00 266.10 163.00 265.60C164.00 265.10 164.97 264.03 165.60 264.00C166.23 263.97 166.33 264.90 166.80 265.40C167.27 265.90 168.03 266.23 168.40 267.00C168.77 267.77 169.07 268.77 169.00 270.00C168.93 271.23 168.47 272.90 168.00 274.40C167.53 275.90 167.03 277.47 166.20 279.00C165.37 280.53 164.77 282.93 163.00 283.60C161.23 284.27 156.83 284.43 155.60 283.00C154.37 281.57 155.43 277.10 155.60 275.00Z" stroke="#161616" stroke-width="1.0" fill="#626262" />
<path d="M156.54 274.78C156.67 273.06 156.81 272.11 157.36 271.01C157.90 269.92 158.94 268.88 159.82 268.22C160.69 267.57 161.78 267.49 162.60 267.08C163.42 266.67 164.22 265.79 164.74 265.76C165.26 265.74 165.34 266.50 165.72 266.91C166.10 267.32 166.73 267.60 167.03 268.22C167.33 268.85 167.58 269.67 167.52 270.68C167.47 271.70 167.09 273.06 166.70 274.29C166.32 275.52 165.91 276.81 165.23 278.06C164.54 279.32 164.05 281.29 162.60 281.84C161.16 282.38 157.55 282.52 156.54 281.34C155.52 280.17 156.40 276.51 156.54 274.78Z" stroke="#b4b4b4" stroke-width="0.7" fill="none" />
<path d="M157.47 274.57C157.58 273.22 157.69 272.48 158.11 271.62C158.54 270.77 159.35 269.96 160.03 269.45C160.71 268.94 161.57 268.87 162.21 268.55C162.85 268.23 163.47 267.55 163.87 267.53C164.28 267.51 164.34 268.10 164.64 268.42C164.94 268.74 165.43 268.96 165.66 269.45C165.90 269.94 166.09 270.58 166.05 271.37C166.01 272.16 165.71 273.22 165.41 274.18C165.11 275.14 164.79 276.15 164.26 277.13C163.72 278.11 163.34 279.65 162.21 280.07C161.08 280.50 158.26 280.61 157.47 279.69C156.68 278.77 157.37 275.91 157.47 274.57Z" stroke="#1a1a1a" stroke-width="0.6" fill="none" />
<path d="M158.41 274.35C158.48 273.39 158.56 272.85 158.87 272.24C159.17 271.62 159.76 271.04 160.25 270.67C160.74 270.30 161.35 270.26 161.81 270.03C162.27 269.80 162.72 269.31 163.01 269.29C163.30 269.28 163.35 269.71 163.56 269.94C163.77 270.17 164.13 270.32 164.30 270.67C164.46 271.02 164.60 271.48 164.57 272.05C164.54 272.62 164.33 273.39 164.11 274.08C163.90 274.77 163.67 275.49 163.28 276.19C162.90 276.90 162.62 278.00 161.81 278.31C161.00 278.61 158.98 278.69 158.41 278.03C157.84 277.37 158.33 275.32 158.41 274.35Z" stroke="#b0b0b0" stroke-width="0.6" fill="none" />
<path d="M159.34 274.14C159.39 273.55 159.44 273.22 159.62 272.85C159.81 272.47 160.17 272.12 160.46 271.90C160.76 271.67 161.14 271.64 161.42 271.50C161.70 271.36 161.97 271.07 162.14 271.06C162.32 271.05 162.35 271.31 162.48 271.45C162.61 271.59 162.83 271.68 162.93 271.90C163.03 272.11 163.11 272.39 163.10 272.74C163.08 273.08 162.95 273.55 162.82 273.97C162.69 274.39 162.55 274.83 162.31 275.26C162.08 275.69 161.91 276.36 161.42 276.54C160.92 276.73 159.69 276.78 159.34 276.38C159.00 275.97 159.30 274.72 159.34 274.14Z" stroke="#222222" stroke-width="0.55" fill="none" />
<circle cx="160.80" cy="273.80" r="1.0" fill="#0c0c0c"/>
</g>
<path d="M165.10 263.80C164.77 263.07 164.78 261.53 165.10 260.80C165.42 260.07 166.37 259.40 167.00 259.40C167.63 259.40 168.62 260.07 168.90 260.80C169.18 261.53 169.00 263.07 168.70 263.80C168.40 264.53 167.70 265.20 167.10 265.20C166.50 265.20 165.43 264.53 165.10 263.80Z" stroke="#1c1c1c" stroke-width="0.9" fill="#d2d2d2" />
<path d="M166.20 258.60C165.87 258.13 166.33 256.53 166.60 256.00C166.87 255.47 167.40 255.30 167.80 255.40C168.20 255.50 168.87 256.03 169.00 256.60C169.13 257.17 169.07 258.47 168.60 258.80C168.13 259.13 166.53 259.07 166.20 258.60Z" stroke="#111" stroke-width="0.7" fill="#111" />
<g clip-path="url(#c23)">
<path d="M207.20 277.00C207.20 275.43 207.60 273.43 208.00 271.60C208.40 269.77 208.97 267.83 209.60 266.00C210.23 264.17 211.03 262.43 211.80 260.60C212.57 258.77 213.40 256.77 214.20 255.00C215.00 253.23 215.83 251.33 216.60 250.00C217.37 248.67 218.07 247.53 218.80 247.00C219.53 246.47 220.40 246.37 221.00 246.80C221.60 247.23 222.03 248.30 222.40 249.60C222.77 250.90 222.90 252.93 223.20 254.60C223.50 256.27 224.00 258.03 224.20 259.60C224.40 261.17 224.67 262.60 224.40 264.00C224.13 265.40 223.40 266.73 222.60 268.00C221.80 269.27 220.40 270.33 219.60 271.60C218.80 272.87 218.30 274.07 217.80 275.60C217.30 277.13 218.23 279.90 216.60 280.80C214.97 281.70 209.57 281.63 208.00 281.00C206.43 280.37 207.20 278.57 207.20 277.00Z" stroke="#101010" stroke-width="1.1" fill="#7c7c7c" />
<path d="M208.74 274.83C208.74 273.52 209.08 271.84 209.41 270.30C209.75 268.76 210.22 267.13 210.76 265.59C211.29 264.05 211.96 262.60 212.60 261.06C213.25 259.52 213.95 257.84 214.62 256.35C215.29 254.87 215.99 253.27 216.64 252.15C217.28 251.03 217.87 250.08 218.48 249.63C219.10 249.19 219.83 249.10 220.33 249.47C220.84 249.83 221.20 250.73 221.51 251.82C221.82 252.91 221.93 254.62 222.18 256.02C222.43 257.42 222.85 258.90 223.02 260.22C223.19 261.53 223.41 262.74 223.19 263.91C222.96 265.09 222.35 266.21 221.68 267.27C221.00 268.34 219.83 269.23 219.16 270.30C218.48 271.36 218.06 272.37 217.64 273.66C217.22 274.95 218.01 277.27 216.64 278.03C215.26 278.78 210.73 278.73 209.41 278.19C208.10 277.66 208.74 276.15 208.74 274.83Z" stroke="#d6d6d6" stroke-width="0.8" fill="none" />
<path d="M210.28 272.67C210.28 271.60 210.55 270.24 210.82 268.99C211.10 267.75 211.48 266.43 211.91 265.19C212.34 263.94 212.89 262.76 213.41 261.51C213.93 260.27 214.50 258.91 215.04 257.71C215.58 256.51 216.15 255.21 216.67 254.31C217.19 253.40 217.67 252.63 218.17 252.27C218.67 251.90 219.26 251.84 219.66 252.13C220.07 252.43 220.37 253.15 220.62 254.03C220.86 254.92 220.96 256.30 221.16 257.43C221.36 258.57 221.70 259.77 221.84 260.83C221.98 261.90 222.16 262.87 221.98 263.83C221.79 264.78 221.30 265.69 220.75 266.55C220.21 267.41 219.26 268.13 218.71 268.99C218.17 269.86 217.83 270.67 217.49 271.71C217.15 272.76 217.78 274.64 216.67 275.25C215.56 275.86 211.89 275.82 210.82 275.39C209.76 274.96 210.28 273.73 210.28 272.67Z" stroke="#141414" stroke-width="0.65" fill="none" />
<path d="M211.82 270.50C211.82 269.69 212.03 268.65 212.24 267.69C212.44 266.74 212.74 265.73 213.07 264.78C213.40 263.83 213.81 262.93 214.21 261.97C214.61 261.02 215.04 259.98 215.46 259.06C215.88 258.14 216.31 257.15 216.71 256.46C217.11 255.77 217.47 255.18 217.85 254.90C218.23 254.62 218.68 254.57 219.00 254.80C219.31 255.02 219.53 255.58 219.72 256.25C219.91 256.93 219.98 257.99 220.14 258.85C220.30 259.72 220.56 260.64 220.66 261.45C220.76 262.27 220.90 263.01 220.76 263.74C220.62 264.47 220.24 265.16 219.83 265.82C219.41 266.48 218.68 267.03 218.27 267.69C217.85 268.35 217.59 268.97 217.33 269.77C217.07 270.57 217.56 272.01 216.71 272.48C215.86 272.94 213.05 272.91 212.24 272.58C211.42 272.25 211.82 271.31 211.82 270.50Z" stroke="#cfcfcf" stroke-width="0.7" fill="none" />
<ellipse cx="211.40" cy="274.20" rx="2.90" ry="3.80" transform="rotate(10 211.40 274.20)" fill="#6e6e6e" stroke="#141414" stroke-width="0.65"/>
<ellipse cx="211.40" cy="274.20" rx="2.03" ry="2.66" transform="rotate(10 211.40 274.20)" fill="#4c4c4c" stroke="#e4e4e4" stroke-width="0.5"/>
<ellipse cx="211.40" cy="274.20" rx="1.04" ry="1.37" transform="rotate(10 211.40 274.20)" fill="#080808" stroke="none" stroke-width="0.5"/>
</g>
<g clip-path="url(#c23)">
<ellipse cx="218.90" cy="257.60" rx="2.30" ry="7.00" transform="rotate(14 218.90 257.60)" fill="#8a8a8a" stroke="#1a1a1a" stroke-width="0.6"/>
<ellipse cx="219.00" cy="257.00" rx="1.20" ry="4.60" transform="rotate(14 219.00 257.00)" fill="#c4c4c4" stroke="#dedede" stroke-width="0.4"/>
</g>
<path d="M36.50 172.50L36.50 251.40" stroke="#000" stroke-width="1.3" fill="none"/>
<polygon points="36.5,166.3 40.4,175.0 36.5,173.0 32.6,175.0" fill="#000"/>
<text x="39.00" y="279.70" font-size="8.7" font-weight="bold" stroke="#000" stroke-width="0.36" textLength="18.40" lengthAdjust="spacingAndGlyphs" transform="rotate(-90 39.00 279.70)">IL-17</text>
<text x="48.00" y="290.30" font-size="8.7" font-weight="bold" stroke="#000" stroke-width="0.36" textLength="28.60" lengthAdjust="spacingAndGlyphs">TCR-γδ</text>
<path d="M85.30 288.60L243.00 288.60" stroke="#000" stroke-width="1.3" fill="none"/>
<polygon points="249.4,288.6 240.8,284.8 242.8,288.6 240.8,292.4" fill="#000"/>
<path d="M354.10 178.00L354.10 268.00" stroke="#000" stroke-width="1.1" fill="none"/>
<path d="M350.90 182.80L354.10 182.80" stroke="#000" stroke-width="0.9" fill="none"/>
<path d="M350.90 194.10L354.10 194.10" stroke="#000" stroke-width="0.9" fill="none"/>
<path d="M350.90 205.40L354.10 205.40" stroke="#000" stroke-width="0.9" fill="none"/>
<path d="M350.90 216.60L354.10 216.60" stroke="#000" stroke-width="0.9" fill="none"/>
<path d="M350.90 227.90L354.10 227.90" stroke="#000" stroke-width="0.9" fill="none"/>
<path d="M350.90 239.10L354.10 239.10" stroke="#000" stroke-width="0.9" fill="none"/>
<path d="M350.90 250.20L354.10 250.20" stroke="#000" stroke-width="0.9" fill="none"/>
<path d="M350.90 261.80L354.10 261.80" stroke="#000" stroke-width="0.9" fill="none"/>
<text x="330.00" y="185.10" font-size="6.8" font-weight="bold" stroke="#000" stroke-width="0.36" textLength="19.00" lengthAdjust="spacingAndGlyphs">media</text>
<text x="314.10" y="196.40" font-size="6.8" font-weight="bold" stroke="#000" stroke-width="0.36" textLength="34.90" lengthAdjust="spacingAndGlyphs">IL-1<tspan font-weight="normal" fill="#333" stroke="#333" stroke-width="0.12">β</tspan>+IL-23</text>
<text x="338.70" y="207.70" font-size="6.8" font-weight="bold" stroke="#000" stroke-width="0.36" textLength="10.30" lengthAdjust="spacingAndGlyphs">IgG</text>
<text x="329.10" y="218.90" font-size="6.8" font-weight="bold" stroke="#000" stroke-width="0.36" textLength="19.90" lengthAdjust="spacingAndGlyphs"><tspan font-weight="normal" fill="#333" stroke="#333" stroke-width="0.12">α</tspan>IL-1<tspan font-weight="normal" fill="#333" stroke="#333" stroke-width="0.12">β</tspan></text>
<text x="330.00" y="230.20" font-size="6.8" font-weight="bold" stroke="#000" stroke-width="0.36" textLength="19.00" lengthAdjust="spacingAndGlyphs"><tspan font-weight="normal" fill="#333" stroke="#333" stroke-width="0.12">α</tspan>IL-23</text>
<text x="304.60" y="241.40" font-size="6.8" font-weight="bold" stroke="#000" stroke-width="0.36" textLength="44.40" lengthAdjust="spacingAndGlyphs"><tspan font-weight="normal" fill="#333" stroke="#333" stroke-width="0.12">α</tspan>IL-1<tspan font-weight="normal" fill="#333" stroke="#333" stroke-width="0.12">β</tspan>+<tspan font-weight="normal" fill="#333" stroke="#333" stroke-width="0.12">α</tspan>IL-23</text>
<text x="322.70" y="252.50" font-size="6.8" font-weight="bold" stroke="#000" stroke-width="0.36" textLength="26.30" lengthAdjust="spacingAndGlyphs">IL-1R1<tspan font-size="4" dy="-2.4" font-weight="normal" stroke="none" fill="#333">–/–</tspan></text>
<text x="314.10" y="264.10" font-size="6.8" font-weight="bold" stroke="#000" stroke-width="0.36" textLength="34.90" lengthAdjust="spacingAndGlyphs">IL-1<tspan font-weight="normal" fill="#333" stroke="#333" stroke-width="0.12">β</tspan>+IL-23</text>
<rect x="354.10" y="179.00" width="8.70" height="7.60" fill="#000" stroke="none" stroke-width="0"/>
<path d="M362.80 182.80L364.40 182.80" stroke="#777" stroke-width="0.7" fill="none"/>
<path d="M364.40 181.20L364.40 184.40" stroke="#777" stroke-width="0.7" fill="none"/>
<rect x="354.10" y="190.30" width="68.90" height="7.60" fill="#000" stroke="none" stroke-width="0"/>
<rect x="429.30" y="190.30" width="34.10" height="7.60" fill="#000" stroke="none" stroke-width="0"/>
<path d="M463.40 194.10L464.60 194.10" stroke="#555" stroke-width="0.7" fill="none"/>
<path d="M464.60 192.50L464.60 195.70" stroke="#555" stroke-width="0.7" fill="none"/>
<rect x="354.10" y="201.60" width="41.00" height="7.60" fill="#000" stroke="none" stroke-width="0"/>
<path d="M395.10 205.40L397.90 205.40" stroke="#777" stroke-width="0.7" fill="none"/>
<path d="M397.90 203.80L397.90 207.00" stroke="#777" stroke-width="0.7" fill="none"/>
<rect x="354.10" y="212.80" width="30.50" height="7.60" fill="#000" stroke="none" stroke-width="0"/>
<path d="M384.60 216.60L387.50 216.60" stroke="#777" stroke-width="0.7" fill="none"/>
<path d="M387.50 215.00L387.50 218.20" stroke="#777" stroke-width="0.7" fill="none"/>
<rect x="354.10" y="224.10" width="11.80" height="7.60" fill="#000" stroke="none" stroke-width="0"/>
<path d="M365.90 227.90L367.40 227.90" stroke="#777" stroke-width="0.7" fill="none"/>
<path d="M367.40 226.30L367.40 229.50" stroke="#777" stroke-width="0.7" fill="none"/>
<rect x="354.10" y="235.30" width="8.70" height="7.60" fill="#000" stroke="none" stroke-width="0"/>
<rect x="354.10" y="246.40" width="5.50" height="7.60" fill="#000" stroke="none" stroke-width="0"/>
<path d="M359.60 250.20L361.90 250.20" stroke="#777" stroke-width="0.7" fill="none"/>
<path d="M361.90 248.60L361.90 251.80" stroke="#777" stroke-width="0.7" fill="none"/>
<rect x="354.10" y="258.00" width="68.90" height="7.60" fill="#000" stroke="none" stroke-width="0"/>
<rect x="429.30" y="258.00" width="49.30" height="7.60" fill="#000" stroke="none" stroke-width="0"/>
<path d="M353.60 267.60L423.10 267.60" stroke="#000" stroke-width="1.1" fill="none"/>
<path d="M429.10 267.60L491.80 267.60" stroke="#000" stroke-width="1.1" fill="none"/>
<path d="M354.10 267.60L354.10 270.60" stroke="#000" stroke-width="0.9" fill="none"/>
<path d="M388.50 267.60L388.50 270.60" stroke="#000" stroke-width="0.9" fill="none"/>
<path d="M423.10 267.60L423.10 270.60" stroke="#000" stroke-width="0.9" fill="none"/>
<path d="M429.10 267.60L429.10 270.60" stroke="#000" stroke-width="0.9" fill="none"/>
<path d="M450.30 267.60L450.30 270.60" stroke="#000" stroke-width="0.9" fill="none"/>
<path d="M491.30 267.60L491.30 270.60" stroke="#000" stroke-width="0.9" fill="none"/>
<text x="354.10" y="276.60" font-size="6.8" font-weight="bold" stroke="#000" stroke-width="0.36" text-anchor="middle">0</text>
<text x="388.50" y="276.60" font-size="6.8" font-weight="bold" stroke="#000" stroke-width="0.36" text-anchor="middle">150</text>
<text x="423.10" y="276.60" font-size="6.8" font-weight="bold" stroke="#000" stroke-width="0.36" text-anchor="middle">300</text>
<text x="451.40" y="276.60" font-size="6.8" font-weight="bold" stroke="#000" stroke-width="0.36" text-anchor="middle">8,000</text>
<text x="492.60" y="276.60" font-size="6.8" font-weight="bold" stroke="#000" stroke-width="0.36" text-anchor="middle">12,000</text>
<text x="398.50" y="284.00" font-size="6.8" font-weight="bold" stroke="#000" stroke-width="0.36" textLength="49.00" lengthAdjust="spacingAndGlyphs">IL-17A (pg/mL)</text>
<path d="M366.8 182.9L469.6 182.9L469.6 193.8L467.0 193.8" stroke="#7d7d7d" stroke-width="0.75" fill="none" />
<path d="M397.9 204.8L401.4 204.8L401.4 217.1L389.6 217.1" stroke="#7d7d7d" stroke-width="0.75" fill="none" />
<path d="M404.3 204.8L408.3 204.8L408.3 227.8L369.7 227.8" stroke="#7d7d7d" stroke-width="0.75" fill="none" />
<path d="M418.2 204.8L421.6 204.8L421.6 239.0L368.0 239.0" stroke="#7d7d7d" stroke-width="0.75" fill="none" />
<path d="M427.7 204.8L430.6 204.8L430.6 249.8L368.0 249.8" stroke="#7d7d7d" stroke-width="0.75" fill="none" />
<path d="M481.6 193.8L484.6 193.8L484.6 261.2L481.6 261.2" stroke="#7d7d7d" stroke-width="0.75" fill="none" />
<polygon points="476.00,183.90 474.42,184.49 474.34,186.18 473.29,184.86 471.66,185.31 472.59,183.90 471.66,182.49 473.29,182.94 474.34,181.62 474.42,183.31" fill="#000"/>
<polygon points="476.00,188.20 474.42,188.79 474.34,190.48 473.29,189.16 471.66,189.61 472.59,188.20 471.66,186.79 473.29,187.24 474.34,185.92 474.42,187.61" fill="#000"/>
<polygon points="476.00,192.50 474.42,193.09 474.34,194.78 473.29,193.46 471.66,193.91 472.59,192.50 471.66,191.09 473.29,191.54 474.34,190.22 474.42,191.91" fill="#000"/>
<polygon points="407.20,211.30 405.62,211.89 405.54,213.58 404.49,212.26 402.86,212.71 403.79,211.30 402.86,209.89 404.49,210.34 405.54,209.02 405.62,210.71" fill="#000"/>
<polygon points="415.80,213.45 414.22,214.04 414.14,215.73 413.09,214.41 411.46,214.86 412.39,213.45 411.46,212.04 413.09,212.49 414.14,211.17 414.22,212.86" fill="#000"/>
<polygon points="415.80,217.95 414.22,218.54 414.14,220.23 413.09,218.91 411.46,219.36 412.39,217.95 411.46,216.54 413.09,216.99 414.14,215.67 414.22,217.36" fill="#000"/>
<polygon points="428.10,220.15 426.52,220.74 426.44,222.43 425.39,221.11 423.76,221.56 424.69,220.15 423.76,218.74 425.39,219.19 426.44,217.87 426.52,219.56" fill="#000"/>
<polygon points="428.10,224.65 426.52,225.24 426.44,226.93 425.39,225.61 423.76,226.06 424.69,224.65 423.76,223.24 425.39,223.69 426.44,222.37 426.52,224.06" fill="#000"/>
<polygon points="438.70,225.55 437.12,226.14 437.04,227.83 435.99,226.51 434.36,226.96 435.29,225.55 434.36,224.14 435.99,224.59 437.04,223.27 437.12,224.96" fill="#000"/>
<polygon points="438.70,230.05 437.12,230.64 437.04,232.33 435.99,231.01 434.36,231.46 435.29,230.05 434.36,228.64 435.99,229.09 437.04,227.77 437.12,229.46" fill="#000"/>
<polygon points="491.10,225.35 489.52,225.94 489.44,227.63 488.39,226.31 486.76,226.76 487.69,225.35 486.76,223.94 488.39,224.39 489.44,223.07 489.52,224.76" fill="#000"/>
<polygon points="491.10,229.85 489.52,230.44 489.44,232.13 488.39,230.81 486.76,231.26 487.69,229.85 486.76,228.44 488.39,228.89 489.44,227.57 489.52,229.26" fill="#000"/>
<path d="M302.00 177.20L302.00 200.20" stroke="#222" stroke-width="1.2" fill="none"/>
<path d="M302.00 204.90L302.00 265.10" stroke="#222" stroke-width="1.2" fill="none"/>
<text x="297.80" y="202.40" font-size="6.5" font-weight="bold" stroke="#000" stroke-width="0.36" textLength="26.00" lengthAdjust="spacingAndGlyphs" transform="rotate(-90 297.80 202.40)">–MDSCs</text>
<text x="297.80" y="248.80" font-size="6.5" font-weight="bold" stroke="#000" stroke-width="0.36" textLength="26.00" lengthAdjust="spacingAndGlyphs" transform="rotate(-90 297.80 248.80)">+MDSCs</text>
<text x="74.00" y="329.20" font-size="8.7" font-weight="bold" stroke="#000" stroke-width="0.36" textLength="33.20" lengthAdjust="spacingAndGlyphs">-MDSCs</text>
<text x="178.60" y="329.00" font-size="8.7" font-weight="bold" stroke="#000" stroke-width="0.36" textLength="32.70" lengthAdjust="spacingAndGlyphs">+MDSCs</text>
<path d="M48.90 334.20L142.40 334.20" stroke="#222" stroke-width="1.3" fill="none"/>
<path d="M148.30 334.20L249.60 334.20" stroke="#222" stroke-width="1.3" fill="none"/>
<text x="57.10" y="348.50" font-size="8.7" font-weight="bold" stroke="#000" stroke-width="0.36" textLength="22.60" lengthAdjust="spacingAndGlyphs">Media</text>
<text x="101.10" y="348.40" font-size="8.7" font-weight="bold" stroke="#000" stroke-width="0.36" textLength="43.20" lengthAdjust="spacingAndGlyphs">IL-1β+IL-23</text>
<text x="157.30" y="343.60" font-size="8.7" font-weight="bold" stroke="#000" stroke-width="0.36" textLength="39.60" lengthAdjust="spacingAndGlyphs">Monocytic</text>
<text x="163.00" y="353.20" font-size="8.7" font-weight="bold" stroke="#000" stroke-width="0.36" textLength="28.40" lengthAdjust="spacingAndGlyphs">MDSCs</text>
<text x="202.90" y="343.60" font-size="8.7" font-weight="bold" stroke="#000" stroke-width="0.36" textLength="50.20" lengthAdjust="spacingAndGlyphs">Granulocytic</text>
<text x="214.40" y="353.20" font-size="8.7" font-weight="bold" stroke="#000" stroke-width="0.36" textLength="28.00" lengthAdjust="spacingAndGlyphs">MDSCs</text>
<clipPath id="e0"><rect x="47.30" y="356.80" width="44.10" height="43.90"/></clipPath>
<rect x="47.30" y="356.80" width="44.10" height="43.90" fill="#fff" stroke="#909090" stroke-width="0.8"/>
<path d="M50.50 356.80L50.50 400.70" stroke="#989898" stroke-width="0.7" fill="none"/>
<path d="M47.30 386.40L91.40 386.40" stroke="#989898" stroke-width="0.7" fill="none"/>
<path d="M43.40 360.90L45.30 358.70L45.70 359.40" stroke="#8e8e8e" stroke-width="0.85" fill="none" />
<path d="M43.40 368.70L45.30 366.50L45.70 367.20" stroke="#8e8e8e" stroke-width="0.85" fill="none" />
<path d="M43.40 379.10L45.30 376.90L45.70 377.60" stroke="#8e8e8e" stroke-width="0.85" fill="none" />
<path d="M43.40 390.70L45.30 388.50L45.70 389.20" stroke="#8e8e8e" stroke-width="0.85" fill="none" />
<path d="M43.40 399.70L45.30 397.50L45.70 398.20" stroke="#8e8e8e" stroke-width="0.85" fill="none" />
<path d="M49.20 405.30L51.10 403.10L51.50 403.80" stroke="#8e8e8e" stroke-width="0.85" fill="none" />
<path d="M59.43 405.30L61.33 403.10L61.73 403.80" stroke="#8e8e8e" stroke-width="0.85" fill="none" />
<path d="M69.65 405.30L71.55 403.10L71.95 403.80" stroke="#8e8e8e" stroke-width="0.85" fill="none" />
<path d="M79.88 405.30L81.78 403.10L82.18 403.80" stroke="#8e8e8e" stroke-width="0.85" fill="none" />
<path d="M90.10 405.30L92.00 403.10L92.40 403.80" stroke="#8e8e8e" stroke-width="0.85" fill="none" />
<clipPath id="e1"><rect x="100.60" y="356.80" width="44.00" height="43.90"/></clipPath>
<rect x="100.60" y="356.80" width="44.00" height="43.90" fill="#fff" stroke="#909090" stroke-width="0.8"/>
<path d="M104.40 356.80L104.40 400.70" stroke="#989898" stroke-width="0.7" fill="none"/>
<path d="M100.60 386.40L144.60 386.40" stroke="#989898" stroke-width="0.7" fill="none"/>
<path d="M96.70 360.90L98.60 358.70L99.00 359.40" stroke="#8e8e8e" stroke-width="0.85" fill="none" />
<path d="M96.70 368.70L98.60 366.50L99.00 367.20" stroke="#8e8e8e" stroke-width="0.85" fill="none" />
<path d="M96.70 379.10L98.60 376.90L99.00 377.60" stroke="#8e8e8e" stroke-width="0.85" fill="none" />
<path d="M96.70 390.70L98.60 388.50L99.00 389.20" stroke="#8e8e8e" stroke-width="0.85" fill="none" />
<path d="M96.70 399.70L98.60 397.50L99.00 398.20" stroke="#8e8e8e" stroke-width="0.85" fill="none" />
<path d="M103.10 405.30L105.00 403.10L105.40 403.80" stroke="#8e8e8e" stroke-width="0.85" fill="none" />
<path d="M113.15 405.30L115.05 403.10L115.45 403.80" stroke="#8e8e8e" stroke-width="0.85" fill="none" />
<path d="M123.20 405.30L125.10 403.10L125.50 403.80" stroke="#8e8e8e" stroke-width="0.85" fill="none" />
<path d="M133.25 405.30L135.15 403.10L135.55 403.80" stroke="#8e8e8e" stroke-width="0.85" fill="none" />
<path d="M143.30 405.30L145.20 403.10L145.60 403.80" stroke="#8e8e8e" stroke-width="0.85" fill="none" />
<clipPath id="e2"><rect x="153.90" y="356.80" width="43.30" height="43.90"/></clipPath>
<rect x="153.90" y="356.80" width="43.30" height="43.90" fill="#fff" stroke="#909090" stroke-width="0.8"/>
<path d="M157.60 356.80L157.60 400.70" stroke="#989898" stroke-width="0.7" fill="none"/>
<path d="M153.90 386.40L197.20 386.40" stroke="#989898" stroke-width="0.7" fill="none"/>
<path d="M150.00 360.90L151.90 358.70L152.30 359.40" stroke="#8e8e8e" stroke-width="0.85" fill="none" />
<path d="M150.00 368.70L151.90 366.50L152.30 367.20" stroke="#8e8e8e" stroke-width="0.85" fill="none" />
<path d="M150.00 379.10L151.90 376.90L152.30 377.60" stroke="#8e8e8e" stroke-width="0.85" fill="none" />
<path d="M150.00 390.70L151.90 388.50L152.30 389.20" stroke="#8e8e8e" stroke-width="0.85" fill="none" />
<path d="M150.00 399.70L151.90 397.50L152.30 398.20" stroke="#8e8e8e" stroke-width="0.85" fill="none" />
<path d="M156.30 405.30L158.20 403.10L158.60 403.80" stroke="#8e8e8e" stroke-width="0.85" fill="none" />
<path d="M166.20 405.30L168.10 403.10L168.50 403.80" stroke="#8e8e8e" stroke-width="0.85" fill="none" />
<path d="M176.10 405.30L178.00 403.10L178.40 403.80" stroke="#8e8e8e" stroke-width="0.85" fill="none" />
<path d="M186.00 405.30L187.90 403.10L188.30 403.80" stroke="#8e8e8e" stroke-width="0.85" fill="none" />
<path d="M195.90 405.30L197.80 403.10L198.20 403.80" stroke="#8e8e8e" stroke-width="0.85" fill="none" />
<clipPath id="e3"><rect x="207.40" y="356.80" width="43.20" height="43.90"/></clipPath>
<rect x="207.40" y="356.80" width="43.20" height="43.90" fill="#fff" stroke="#909090" stroke-width="0.8"/>
<path d="M211.20 356.80L211.20 400.70" stroke="#989898" stroke-width="0.7" fill="none"/>
<path d="M207.40 386.40L250.60 386.40" stroke="#989898" stroke-width="0.7" fill="none"/>
<path d="M203.50 360.90L205.40 358.70L205.80 359.40" stroke="#8e8e8e" stroke-width="0.85" fill="none" />
<path d="M203.50 368.70L205.40 366.50L205.80 367.20" stroke="#8e8e8e" stroke-width="0.85" fill="none" />
<path d="M203.50 379.10L205.40 376.90L205.80 377.60" stroke="#8e8e8e" stroke-width="0.85" fill="none" />
<path d="M203.50 390.70L205.40 388.50L205.80 389.20" stroke="#8e8e8e" stroke-width="0.85" fill="none" />
<path d="M203.50 399.70L205.40 397.50L205.80 398.20" stroke="#8e8e8e" stroke-width="0.85" fill="none" />
<path d="M209.90 405.30L211.80 403.10L212.20 403.80" stroke="#8e8e8e" stroke-width="0.85" fill="none" />
<path d="M219.75 405.30L221.65 403.10L222.05 403.80" stroke="#8e8e8e" stroke-width="0.85" fill="none" />
<path d="M229.60 405.30L231.50 403.10L231.90 403.80" stroke="#8e8e8e" stroke-width="0.85" fill="none" />
<path d="M239.45 405.30L241.35 403.10L241.75 403.80" stroke="#8e8e8e" stroke-width="0.85" fill="none" />
<path d="M249.30 405.30L251.20 403.10L251.60 403.80" stroke="#8e8e8e" stroke-width="0.85" fill="none" />
<text x="67.00" y="365.10" font-size="8.3" font-weight="bold" stroke="#000" stroke-width="0.36" textLength="23.20" lengthAdjust="spacingAndGlyphs">2.03%</text>
<text x="120.80" y="365.10" font-size="8.3" font-weight="bold" stroke="#000" stroke-width="0.36" textLength="22.60" lengthAdjust="spacingAndGlyphs">14.6%</text>
<text x="174.20" y="365.10" font-size="8.3" font-weight="bold" stroke="#000" stroke-width="0.36" textLength="22.40" lengthAdjust="spacingAndGlyphs">7.42%</text>
<text x="228.60" y="365.10" font-size="8.3" font-weight="bold" stroke="#000" stroke-width="0.36" textLength="21.40" lengthAdjust="spacingAndGlyphs">11.0%</text>
<g clip-path="url(#e0)">
<path d="M51.00 396.00C51.07 394.17 51.30 392.17 51.80 390.60C52.30 389.03 53.03 387.63 54.00 386.60C54.97 385.57 56.37 384.87 57.60 384.40C58.83 383.93 60.30 383.67 61.40 383.80C62.50 383.93 63.67 384.40 64.20 385.20C64.73 386.00 64.70 387.37 64.60 388.60C64.50 389.83 64.03 391.20 63.60 392.60C63.17 394.00 62.53 395.50 62.00 397.00C61.47 398.50 62.17 400.83 60.40 401.60C58.63 402.37 52.97 402.53 51.40 401.60C49.83 400.67 50.93 397.83 51.00 396.00Z" stroke="#161616" stroke-width="1.0" fill="#626262" />
<path d="M51.90 395.75C51.95 394.24 52.15 392.60 52.56 391.32C52.97 390.04 53.57 388.89 54.36 388.04C55.15 387.19 56.30 386.62 57.31 386.24C58.32 385.85 59.53 385.63 60.43 385.74C61.33 385.85 62.29 386.24 62.72 386.89C63.16 387.55 63.13 388.67 63.05 389.68C62.97 390.69 62.59 391.81 62.23 392.96C61.88 394.11 61.36 395.34 60.92 396.57C60.48 397.80 61.06 399.71 59.61 400.34C58.16 400.97 53.51 401.11 52.23 400.34C50.94 399.57 51.85 397.25 51.90 395.75Z" stroke="#b4b4b4" stroke-width="0.7" fill="none" />
<path d="M52.80 395.50C52.84 394.32 52.99 393.04 53.31 392.04C53.63 391.04 54.10 390.14 54.72 389.48C55.34 388.82 56.23 388.37 57.02 388.07C57.81 387.77 58.75 387.60 59.46 387.69C60.16 387.77 60.91 388.07 61.25 388.58C61.59 389.10 61.57 389.97 61.50 390.76C61.44 391.55 61.14 392.42 60.86 393.32C60.59 394.22 60.18 395.18 59.84 396.14C59.50 397.10 59.95 398.59 58.82 399.08C57.69 399.57 54.06 399.68 53.06 399.08C52.05 398.48 52.76 396.67 52.80 395.50Z" stroke="#1a1a1a" stroke-width="0.6" fill="none" />
<path d="M53.70 395.24C53.73 394.40 53.84 393.48 54.07 392.76C54.30 392.04 54.64 391.40 55.08 390.92C55.52 390.44 56.17 390.12 56.74 389.91C57.30 389.69 57.98 389.57 58.48 389.63C58.99 389.69 59.53 389.91 59.77 390.28C60.02 390.64 60.00 391.27 59.96 391.84C59.91 392.41 59.70 393.04 59.50 393.68C59.30 394.32 59.01 395.01 58.76 395.70C58.51 396.39 58.84 397.47 58.02 397.82C57.21 398.17 54.60 398.25 53.88 397.82C53.16 397.39 53.67 396.09 53.70 395.24Z" stroke="#b0b0b0" stroke-width="0.6" fill="none" />
<path d="M54.60 394.99C54.62 394.48 54.68 393.92 54.82 393.48C54.96 393.04 55.17 392.65 55.44 392.36C55.71 392.07 56.10 391.87 56.45 391.74C56.79 391.61 57.20 391.54 57.51 391.58C57.82 391.61 58.15 391.74 58.30 391.97C58.45 392.19 58.44 392.57 58.41 392.92C58.38 393.27 58.25 393.65 58.13 394.04C58.01 394.43 57.83 394.85 57.68 395.27C57.53 395.69 57.73 396.35 57.23 396.56C56.74 396.77 55.15 396.82 54.71 396.56C54.27 396.30 54.58 395.51 54.60 394.99Z" stroke="#222222" stroke-width="0.55" fill="none" />
<circle cx="56.00" cy="394.60" r="1.0" fill="#0c0c0c"/>
</g>
<g clip-path="url(#e1)">
<path d="M104.60 396.00C104.70 394.07 105.03 391.73 105.60 390.00C106.17 388.27 107.17 386.83 108.00 385.60C108.83 384.37 110.17 383.57 110.60 382.60C111.03 381.63 110.30 380.37 110.60 379.80C110.90 379.23 111.90 378.90 112.40 379.20C112.90 379.50 112.83 381.17 113.60 381.60C114.37 382.03 115.77 381.70 117.00 381.80C118.23 381.90 119.97 381.73 121.00 382.20C122.03 382.67 122.93 383.53 123.20 384.60C123.47 385.67 123.20 387.27 122.60 388.60C122.00 389.93 120.60 391.27 119.60 392.60C118.60 393.93 117.43 395.10 116.60 396.60C115.77 398.10 116.53 400.77 114.60 401.60C112.67 402.43 106.67 402.53 105.00 401.60C103.33 400.67 104.50 397.93 104.60 396.00Z" stroke="#161616" stroke-width="1.0" fill="#626262" />
<path d="M105.57 395.60C105.65 394.02 105.93 392.11 106.39 390.68C106.86 389.26 107.68 388.09 108.36 387.08C109.04 386.06 110.14 385.41 110.49 384.62C110.85 383.82 110.25 382.78 110.49 382.32C110.74 381.86 111.56 381.58 111.97 381.83C112.38 382.07 112.32 383.44 112.95 383.80C113.58 384.15 114.73 383.88 115.74 383.96C116.75 384.04 118.17 383.91 119.02 384.29C119.87 384.67 120.61 385.38 120.82 386.26C121.04 387.13 120.82 388.44 120.33 389.54C119.84 390.63 118.69 391.72 117.87 392.82C117.05 393.91 116.10 394.87 115.41 396.10C114.73 397.33 115.36 399.51 113.77 400.20C112.19 400.88 107.27 400.96 105.90 400.20C104.53 399.43 105.49 397.19 105.57 395.60Z" stroke="#b4b4b4" stroke-width="0.7" fill="none" />
<path d="M106.54 395.21C106.61 393.97 106.82 392.48 107.18 391.37C107.55 390.26 108.19 389.34 108.72 388.55C109.25 387.76 110.11 387.25 110.38 386.63C110.66 386.01 110.19 385.20 110.38 384.84C110.58 384.48 111.22 384.26 111.54 384.46C111.86 384.65 111.81 385.71 112.30 385.99C112.79 386.27 113.69 386.06 114.48 386.12C115.27 386.18 116.38 386.08 117.04 386.38C117.70 386.67 118.28 387.23 118.45 387.91C118.62 388.59 118.45 389.62 118.06 390.47C117.68 391.33 116.78 392.18 116.14 393.03C115.50 393.89 114.76 394.63 114.22 395.59C113.69 396.55 114.18 398.26 112.94 398.79C111.71 399.33 107.87 399.39 106.80 398.79C105.73 398.19 106.48 396.45 106.54 395.21Z" stroke="#1a1a1a" stroke-width="0.6" fill="none" />
<path d="M107.52 394.81C107.56 393.92 107.72 392.85 107.98 392.05C108.24 391.25 108.70 390.60 109.08 390.03C109.46 389.46 110.08 389.09 110.28 388.65C110.48 388.20 110.14 387.62 110.28 387.36C110.41 387.10 110.87 386.95 111.10 387.08C111.33 387.22 111.30 387.99 111.66 388.19C112.01 388.39 112.65 388.23 113.22 388.28C113.79 388.33 114.58 388.25 115.06 388.46C115.54 388.68 115.95 389.08 116.07 389.57C116.19 390.06 116.07 390.79 115.80 391.41C115.52 392.02 114.88 392.63 114.42 393.25C113.96 393.86 113.42 394.40 113.04 395.09C112.65 395.78 113.01 397.00 112.12 397.39C111.23 397.77 108.47 397.82 107.70 397.39C106.93 396.96 107.47 395.70 107.52 394.81Z" stroke="#b0b0b0" stroke-width="0.6" fill="none" />
<path d="M108.49 394.42C108.52 393.87 108.61 393.22 108.77 392.74C108.93 392.25 109.21 391.85 109.44 391.50C109.67 391.16 110.05 390.93 110.17 390.66C110.29 390.39 110.08 390.04 110.17 389.88C110.25 389.72 110.53 389.63 110.67 389.71C110.81 389.80 110.79 390.26 111.01 390.38C111.22 390.51 111.61 390.41 111.96 390.44C112.31 390.47 112.79 390.42 113.08 390.55C113.37 390.68 113.62 390.93 113.70 391.22C113.77 391.52 113.70 391.97 113.53 392.34C113.36 392.72 112.97 393.09 112.69 393.46C112.41 393.84 112.08 394.16 111.85 394.58C111.61 395.00 111.83 395.75 111.29 395.98C110.75 396.22 109.07 396.25 108.60 395.98C108.13 395.72 108.46 394.96 108.49 394.42Z" stroke="#222222" stroke-width="0.55" fill="none" />
<circle cx="110.00" cy="393.80" r="1.0" fill="#0c0c0c"/>
</g>
<path d="M110.2 381.6L110.8 379.2L112.6 379.0L113.6 381.2L112.0 382.4Z" stroke="#111" stroke-width="0.6" fill="#111" />
<g clip-path="url(#e2)">
<path d="M157.40 396.00C157.47 394.13 157.67 392.23 158.20 390.60C158.73 388.97 159.67 387.47 160.60 386.20C161.53 384.93 162.73 383.90 163.80 383.00C164.87 382.10 166.03 381.07 167.00 380.80C167.97 380.53 168.80 381.50 169.60 381.40C170.40 381.30 171.08 380.03 171.80 380.20C172.52 380.37 173.60 381.33 173.90 382.40C174.20 383.47 173.95 385.17 173.60 386.60C173.25 388.03 172.43 389.43 171.80 391.00C171.17 392.57 170.40 394.20 169.80 396.00C169.20 397.80 170.20 400.83 168.20 401.80C166.20 402.77 159.60 402.77 157.80 401.80C156.00 400.83 157.33 397.87 157.40 396.00Z" stroke="#161616" stroke-width="1.0" fill="#626262" />
<path d="M158.59 395.60C158.64 394.07 158.81 392.52 159.24 391.18C159.68 389.84 160.45 388.61 161.21 387.57C161.98 386.53 162.96 385.68 163.84 384.94C164.71 384.21 165.67 383.36 166.46 383.14C167.25 382.92 167.94 383.71 168.59 383.63C169.25 383.55 169.81 382.51 170.40 382.65C170.98 382.78 171.87 383.58 172.12 384.45C172.36 385.33 172.16 386.72 171.87 387.90C171.58 389.07 170.92 390.22 170.40 391.50C169.88 392.79 169.25 394.13 168.76 395.60C168.26 397.08 169.08 399.57 167.44 400.36C165.80 401.15 160.39 401.15 158.92 400.36C157.44 399.57 158.53 397.13 158.59 395.60Z" stroke="#b4b4b4" stroke-width="0.7" fill="none" />
<path d="M159.78 395.21C159.82 394.01 159.95 392.80 160.29 391.75C160.63 390.71 161.23 389.75 161.82 388.94C162.42 388.13 163.19 387.46 163.87 386.89C164.55 386.31 165.30 385.65 165.92 385.48C166.54 385.31 167.07 385.93 167.58 385.86C168.10 385.80 168.53 384.99 168.99 385.10C169.45 385.20 170.14 385.82 170.34 386.50C170.53 387.19 170.37 388.27 170.14 389.19C169.92 390.11 169.40 391.01 168.99 392.01C168.59 393.01 168.10 394.06 167.71 395.21C167.33 396.36 167.97 398.30 166.69 398.92C165.41 399.54 161.18 399.54 160.03 398.92C158.88 398.30 159.73 396.40 159.78 395.21Z" stroke="#1a1a1a" stroke-width="0.6" fill="none" />
<path d="M160.96 394.81C160.99 393.95 161.09 393.08 161.33 392.33C161.58 391.58 162.01 390.89 162.44 390.30C162.87 389.72 163.42 389.25 163.91 388.83C164.40 388.42 164.94 387.94 165.38 387.82C165.82 387.70 166.21 388.14 166.58 388.10C166.94 388.05 167.26 387.47 167.59 387.54C167.92 387.62 168.42 388.07 168.55 388.56C168.69 389.05 168.58 389.83 168.42 390.49C168.25 391.15 167.88 391.79 167.59 392.51C167.30 393.23 166.94 393.98 166.67 394.81C166.39 395.64 166.85 397.04 165.93 397.48C165.01 397.92 161.98 397.92 161.15 397.48C160.32 397.04 160.93 395.67 160.96 394.81Z" stroke="#b0b0b0" stroke-width="0.6" fill="none" />
<path d="M162.15 394.42C162.17 393.89 162.23 393.36 162.38 392.90C162.53 392.45 162.79 392.03 163.05 391.67C163.31 391.32 163.65 391.03 163.94 390.78C164.24 390.52 164.57 390.23 164.84 390.16C165.11 390.09 165.34 390.36 165.57 390.33C165.79 390.30 165.98 389.95 166.18 389.99C166.38 390.04 166.69 390.31 166.77 390.61C166.86 390.91 166.79 391.38 166.69 391.78C166.59 392.19 166.36 392.58 166.18 393.02C166.01 393.45 165.79 393.91 165.62 394.42C165.46 394.92 165.74 395.77 165.18 396.04C164.62 396.31 162.77 396.31 162.26 396.04C161.76 395.77 162.13 394.94 162.15 394.42Z" stroke="#222222" stroke-width="0.55" fill="none" />
<circle cx="164.00" cy="393.80" r="1.0" fill="#0c0c0c"/>
</g>
<g clip-path="url(#e3)">
<path d="M211.60 396.00C211.70 394.23 211.93 392.40 212.60 391.00C213.27 389.60 214.60 388.60 215.60 387.60C216.60 386.60 217.93 386.10 218.60 385.00C219.27 383.90 219.37 382.20 219.60 381.00C219.83 379.80 219.50 378.20 220.00 377.80C220.50 377.40 221.67 378.63 222.60 378.60C223.53 378.57 224.60 377.43 225.60 377.60C226.60 377.77 227.97 378.60 228.60 379.60C229.23 380.60 229.47 382.20 229.40 383.60C229.33 385.00 228.77 386.50 228.20 388.00C227.63 389.50 226.70 391.10 226.00 392.60C225.30 394.10 224.57 395.50 224.00 397.00C223.43 398.50 224.60 400.83 222.60 401.60C220.60 402.37 213.83 402.53 212.00 401.60C210.17 400.67 211.50 397.77 211.60 396.00Z" stroke="#161616" stroke-width="1.0" fill="#626262" />
<path d="M212.64 395.60C212.73 394.16 212.92 392.65 213.46 391.50C214.01 390.36 215.10 389.54 215.92 388.72C216.74 387.90 217.84 387.49 218.38 386.58C218.93 385.68 219.01 384.29 219.20 383.30C219.40 382.32 219.12 381.01 219.53 380.68C219.94 380.35 220.90 381.36 221.66 381.34C222.43 381.31 223.30 380.38 224.12 380.52C224.94 380.65 226.06 381.34 226.58 382.16C227.10 382.98 227.29 384.29 227.24 385.44C227.19 386.58 226.72 387.81 226.26 389.04C225.79 390.27 225.03 391.59 224.45 392.82C223.88 394.05 223.28 395.19 222.81 396.42C222.35 397.65 223.30 399.57 221.66 400.20C220.02 400.82 214.48 400.96 212.97 400.20C211.47 399.43 212.56 397.05 212.64 395.60Z" stroke="#b4b4b4" stroke-width="0.7" fill="none" />
<path d="M213.69 395.21C213.75 394.08 213.90 392.90 214.33 392.01C214.75 391.11 215.61 390.47 216.25 389.83C216.89 389.19 217.74 388.87 218.17 388.17C218.59 387.46 218.66 386.38 218.81 385.61C218.96 384.84 218.74 383.82 219.06 383.56C219.38 383.30 220.13 384.09 220.73 384.07C221.33 384.05 222.01 383.33 222.65 383.43C223.29 383.54 224.16 384.07 224.57 384.71C224.97 385.35 225.12 386.38 225.08 387.27C225.04 388.17 224.67 389.13 224.31 390.09C223.95 391.05 223.35 392.07 222.90 393.03C222.46 393.99 221.99 394.89 221.62 395.85C221.26 396.81 222.01 398.30 220.73 398.79C219.45 399.28 215.12 399.39 213.94 398.79C212.77 398.19 213.62 396.34 213.69 395.21Z" stroke="#1a1a1a" stroke-width="0.6" fill="none" />
<path d="M214.73 394.81C214.78 394.00 214.89 393.16 215.19 392.51C215.50 391.87 216.11 391.41 216.57 390.95C217.03 390.49 217.65 390.26 217.95 389.75C218.26 389.25 218.30 388.46 218.41 387.91C218.52 387.36 218.37 386.62 218.60 386.44C218.83 386.26 219.36 386.82 219.79 386.81C220.22 386.79 220.71 386.27 221.17 386.35C221.63 386.42 222.26 386.81 222.55 387.27C222.84 387.73 222.95 388.46 222.92 389.11C222.89 389.75 222.63 390.44 222.37 391.13C222.11 391.82 221.68 392.56 221.36 393.25C221.03 393.94 220.70 394.58 220.44 395.27C220.18 395.96 220.71 397.04 219.79 397.39C218.87 397.74 215.76 397.82 214.92 397.39C214.07 396.96 214.69 395.62 214.73 394.81Z" stroke="#b0b0b0" stroke-width="0.6" fill="none" />
<path d="M215.78 394.42C215.80 393.92 215.87 393.41 216.06 393.02C216.24 392.62 216.62 392.34 216.90 392.06C217.18 391.78 217.55 391.64 217.74 391.34C217.92 391.03 217.95 390.55 218.02 390.22C218.08 389.88 217.99 389.43 218.13 389.32C218.27 389.21 218.59 389.55 218.86 389.54C219.12 389.53 219.42 389.22 219.70 389.26C219.98 389.31 220.36 389.54 220.54 389.82C220.71 390.10 220.78 390.55 220.76 390.94C220.74 391.34 220.58 391.76 220.42 392.18C220.27 392.60 220.00 393.04 219.81 393.46C219.61 393.88 219.41 394.28 219.25 394.70C219.09 395.12 219.42 395.77 218.86 395.98C218.30 396.20 216.40 396.25 215.89 395.98C215.37 395.72 215.75 394.91 215.78 394.42Z" stroke="#222222" stroke-width="0.55" fill="none" />
<circle cx="217.40" cy="393.80" r="1.0" fill="#0c0c0c"/>
</g>
<circle cx="222.0" cy="374.4" r="0.8" fill="#111"/>
<circle cx="59.6" cy="378.0" r="2.4" fill="#f8f8f8"/>
<circle cx="112.6" cy="373.0" r="2.4" fill="#f8f8f8"/>
<circle cx="166.0" cy="372.0" r="2.4" fill="#f8f8f8"/>
<circle cx="223.0" cy="370.6" r="2.4" fill="#f8f8f8"/>
<path d="M36.40 362.40L36.40 378.60" stroke="#000" stroke-width="1.3" fill="none"/>
<polygon points="36.4,356.0 40.2,364.8 36.4,362.9 32.6,364.8" fill="#000"/>
<text x="39.20" y="401.00" font-size="8.7" font-weight="bold" stroke="#000" stroke-width="0.36" textLength="17.40" lengthAdjust="spacingAndGlyphs" transform="rotate(-90 39.20 401.00)">IL-17</text>
<text x="47.80" y="418.10" font-size="8.7" font-weight="bold" stroke="#000" stroke-width="0.36" textLength="29.00" lengthAdjust="spacingAndGlyphs">TCR-γδ</text>
<path d="M87.10 415.30L243.60 415.30" stroke="#000" stroke-width="1.3" fill="none"/>
<polygon points="250.0,415.3 241.4,411.5 243.4,415.3 241.4,419.1" fill="#000"/>
<path d="M326.80 317.80L326.80 362.80" stroke="#000" stroke-width="1.0" fill="none"/>
<path d="M326.80 369.80L326.80 414.70" stroke="#000" stroke-width="1.0" fill="none"/>
<path d="M324.20 318.20L326.80 318.20" stroke="#000" stroke-width="0.9" fill="none"/>
<text x="323.70" y="320.68" font-size="6.9" font-weight="bold" stroke="#000" stroke-width="0.36" text-anchor="end">1,200</text>
<path d="M324.20 332.90L326.80 332.90" stroke="#000" stroke-width="0.9" fill="none"/>
<text x="323.70" y="335.38" font-size="6.9" font-weight="bold" stroke="#000" stroke-width="0.36" text-anchor="end">1,000</text>
<path d="M324.20 347.60L326.80 347.60" stroke="#000" stroke-width="0.9" fill="none"/>
<text x="323.70" y="350.08" font-size="6.9" font-weight="bold" stroke="#000" stroke-width="0.36" text-anchor="end">800</text>
<path d="M324.20 362.50L328.60 362.50" stroke="#000" stroke-width="0.9" fill="none"/>
<text x="323.70" y="364.98" font-size="6.9" font-weight="bold" stroke="#000" stroke-width="0.36" text-anchor="end">600</text>
<path d="M324.20 370.00L328.60 370.00" stroke="#000" stroke-width="0.9" fill="none"/>
<text x="323.70" y="372.48" font-size="6.9" font-weight="bold" stroke="#000" stroke-width="0.36" text-anchor="end">200</text>
<path d="M324.20 381.20L326.80 381.20" stroke="#000" stroke-width="0.9" fill="none"/>
<text x="323.70" y="383.68" font-size="6.9" font-weight="bold" stroke="#000" stroke-width="0.36" text-anchor="end">150</text>
<path d="M324.20 392.20L326.80 392.20" stroke="#000" stroke-width="0.9" fill="none"/>
<text x="323.70" y="394.68" font-size="6.9" font-weight="bold" stroke="#000" stroke-width="0.36" text-anchor="end">100</text>
<path d="M324.20 403.20L326.80 403.20" stroke="#000" stroke-width="0.9" fill="none"/>
<text x="323.70" y="405.68" font-size="6.9" font-weight="bold" stroke="#000" stroke-width="0.36" text-anchor="end">50</text>
<path d="M324.20 414.20L326.80 414.20" stroke="#000" stroke-width="0.9" fill="none"/>
<text x="323.70" y="416.68" font-size="6.9" font-weight="bold" stroke="#000" stroke-width="0.36" text-anchor="end">0</text>
<text x="302.30" y="388.80" font-size="6.4" font-weight="bold" stroke="#000" stroke-width="0.36" textLength="46.80" lengthAdjust="spacingAndGlyphs" transform="rotate(-90 302.30 388.80)">IL-17A (pg/mL)</text>
<path d="M326.30 414.20L469.60 414.20" stroke="#000" stroke-width="1.0" fill="none"/>
<rect x="332.80" y="396.50" width="24.20" height="17.70" fill="#000" stroke="none" stroke-width="0"/>
<rect x="368.20" y="332.40" width="24.80" height="30.40" fill="#000" stroke="none" stroke-width="0"/>
<rect x="368.20" y="370.00" width="24.80" height="44.20" fill="#000" stroke="none" stroke-width="0"/>
<path d="M375.00 331.80L386.40 331.80" stroke="#333" stroke-width="0.6" fill="none"/>
<rect x="404.20" y="392.00" width="24.10" height="22.20" fill="#000" stroke="none" stroke-width="0"/>
<path d="M409.40 390.40L423.40 390.40" stroke="#444" stroke-width="0.7" fill="none"/>
<path d="M416.30 390.40L416.30 392.00" stroke="#444" stroke-width="0.7" fill="none"/>
<rect x="439.60" y="378.30" width="24.00" height="35.90" fill="#000" stroke="none" stroke-width="0"/>
<path d="M344.90 414.20L344.90 417.20" stroke="#000" stroke-width="0.9" fill="none"/>
<path d="M380.50 414.20L380.50 417.20" stroke="#000" stroke-width="0.9" fill="none"/>
<path d="M416.20 414.20L416.20 417.20" stroke="#000" stroke-width="0.9" fill="none"/>
<path d="M451.50 414.20L451.50 417.20" stroke="#000" stroke-width="0.9" fill="none"/>
<path d="M344.2 313.2L344.2 310.7L455.0 310.7L455.0 375.0" stroke="#555" stroke-width="0.95" fill="none" />
<path d="M344.2 319.6L344.2 317.3L414.0 317.3L414.0 375.0" stroke="#555" stroke-width="0.95" fill="none" />
<path d="M344.4 389.6L344.4 325.6L381.4 325.6L381.4 328.0" stroke="#555" stroke-width="0.95" fill="none" />
<path d="M414.0 372.1L455.0 372.1" stroke="#555" stroke-width="0.95" fill="none" />
<polygon points="393.20,304.10 393.87,305.88 395.77,305.97 394.28,307.15 394.79,308.98 393.20,307.93 391.61,308.98 392.12,307.15 390.63,305.97 392.53,305.88" fill="#000"/>
<polygon points="398.20,304.10 398.87,305.88 400.77,305.97 399.28,307.15 399.79,308.98 398.20,307.93 396.61,308.98 397.12,307.15 395.63,305.97 397.53,305.88" fill="#000"/>
<polygon points="403.20,304.10 403.87,305.88 405.77,305.97 404.28,307.15 404.79,308.98 403.20,307.93 401.61,308.98 402.12,307.15 400.63,305.97 402.53,305.88" fill="#000"/>
<polygon points="380.90,311.20 381.54,312.92 383.37,313.00 381.94,314.14 382.43,315.90 380.90,314.89 379.37,315.90 379.86,314.14 378.43,313.00 380.26,312.92" fill="#000"/>
<polygon points="359.00,318.50 359.67,320.28 361.57,320.37 360.08,321.55 360.59,323.38 359.00,322.33 357.41,323.38 357.92,321.55 356.43,320.37 358.33,320.28" fill="#000"/>
<polygon points="364.00,318.50 364.67,320.28 366.57,320.37 365.08,321.55 365.59,323.38 364.00,322.33 362.41,323.38 362.92,321.55 361.43,320.37 363.33,320.28" fill="#000"/>
<polygon points="369.00,318.50 369.67,320.28 371.57,320.37 370.08,321.55 370.59,323.38 369.00,322.33 367.41,323.38 367.92,321.55 366.43,320.37 368.33,320.28" fill="#000"/>
<polygon points="433.70,364.00 434.34,365.72 436.17,365.80 434.74,366.94 435.23,368.70 433.70,367.69 432.17,368.70 432.66,366.94 431.23,365.80 433.06,365.72" fill="#000"/>
<text x="333.90" y="423.80" font-size="6.4" font-weight="bold" stroke="#000" stroke-width="0.36" textLength="18.10" lengthAdjust="spacingAndGlyphs">Media</text>
<text x="372.70" y="423.80" font-size="6.4" font-weight="bold" stroke="#000" stroke-width="0.36" textLength="14.20" lengthAdjust="spacingAndGlyphs">IL-1<tspan font-weight="normal" fill="#333" stroke="#333" stroke-width="0.12">β</tspan></text>
<text x="372.20" y="431.70" font-size="6.4" font-weight="bold" stroke="#000" stroke-width="0.36" textLength="18.20" lengthAdjust="spacingAndGlyphs">+IL-23</text>
<text x="399.90" y="423.80" font-size="6.4" font-weight="bold" stroke="#000" stroke-width="0.36" textLength="31.90" lengthAdjust="spacingAndGlyphs">Monocytic</text>
<text x="405.20" y="431.90" font-size="6.4" font-weight="bold" stroke="#000" stroke-width="0.36" textLength="21.40" lengthAdjust="spacingAndGlyphs">MDSCs</text>
<text x="435.80" y="423.80" font-size="6.4" font-weight="bold" stroke="#000" stroke-width="0.36" textLength="40.30" lengthAdjust="spacingAndGlyphs">Granulocytic</text>
<text x="445.50" y="431.90" font-size="6.4" font-weight="bold" stroke="#000" stroke-width="0.36" textLength="22.20" lengthAdjust="spacingAndGlyphs">MDSCs</text>
<text x="150.30" y="466.70" font-size="8.7" font-weight="bold" stroke="#000" stroke-width="0.36" textLength="32.60" lengthAdjust="spacingAndGlyphs">+MDSCs</text>
<path d="M50.70 470.40L285.00 470.40" stroke="#222" stroke-width="1.3" fill="none"/>
<text x="18.00" y="479.60" font-size="8.7" font-weight="bold" stroke="#000" stroke-width="0.36" textLength="29.40" lengthAdjust="spacingAndGlyphs">rmIL-17</text>
<text x="17.30" y="489.90" font-size="8.7" font-weight="bold" stroke="#000" stroke-width="0.36" textLength="29.90" lengthAdjust="spacingAndGlyphs">(ng/mL)</text>
<text x="72.80" y="485.40" font-size="8.7" font-weight="bold" stroke="#000" stroke-width="0.36" textLength="12.80" lengthAdjust="spacingAndGlyphs">IgG</text>
<text x="125.00" y="485.60" font-size="8.7" font-weight="bold" stroke="#000" stroke-width="0.36" textLength="26.80" lengthAdjust="spacingAndGlyphs">10+IgG</text>
<text x="178.00" y="485.60" font-size="8.7" font-weight="bold" stroke="#000" stroke-width="0.36" textLength="32.00" lengthAdjust="spacingAndGlyphs">100+IgG</text>
<text x="232.50" y="485.60" font-size="8.7" font-weight="bold" stroke="#000" stroke-width="0.36" textLength="43.00" lengthAdjust="spacingAndGlyphs">100+αIL-17</text>
<clipPath id="g0"><rect x="48.20" y="488.00" width="55.80" height="61.20"/></clipPath>
<rect x="48.20" y="488.00" width="55.80" height="61.20" fill="#fff" stroke="#909090" stroke-width="0.8"/>
<path d="M54.50 488.00L54.50 549.20" stroke="#989898" stroke-width="0.7" fill="none"/>
<path d="M48.20 530.20L104.00 530.20" stroke="#989898" stroke-width="0.7" fill="none"/>
<clipPath id="g1"><rect x="107.70" y="488.00" width="55.80" height="61.20"/></clipPath>
<rect x="107.70" y="488.00" width="55.80" height="61.20" fill="#fff" stroke="#909090" stroke-width="0.8"/>
<path d="M114.40 488.00L114.40 549.20" stroke="#989898" stroke-width="0.7" fill="none"/>
<path d="M107.70 530.20L163.50 530.20" stroke="#989898" stroke-width="0.7" fill="none"/>
<clipPath id="g2"><rect x="166.50" y="488.00" width="55.10" height="61.20"/></clipPath>
<rect x="166.50" y="488.00" width="55.10" height="61.20" fill="#fff" stroke="#909090" stroke-width="0.8"/>
<path d="M172.80 488.00L172.80 549.20" stroke="#989898" stroke-width="0.7" fill="none"/>
<path d="M166.50 530.20L221.60 530.20" stroke="#989898" stroke-width="0.7" fill="none"/>
<clipPath id="g3"><rect x="225.50" y="488.00" width="54.30" height="61.20"/></clipPath>
<rect x="225.50" y="488.00" width="54.30" height="61.20" fill="#fff" stroke="#909090" stroke-width="0.8"/>
<path d="M231.80 488.00L231.80 549.20" stroke="#989898" stroke-width="0.7" fill="none"/>
<path d="M225.50 530.20L279.80 530.20" stroke="#989898" stroke-width="0.7" fill="none"/>
<text x="81.80" y="501.10" font-size="7.5" font-weight="bold" stroke="#000" stroke-width="0.36" textLength="19.60" lengthAdjust="spacingAndGlyphs">13.6%</text>
<text x="141.00" y="501.10" font-size="7.5" font-weight="bold" stroke="#000" stroke-width="0.36" textLength="20.00" lengthAdjust="spacingAndGlyphs">20.2%</text>
<text x="200.30" y="501.10" font-size="7.5" font-weight="bold" stroke="#000" stroke-width="0.36" textLength="19.90" lengthAdjust="spacingAndGlyphs">34.7%</text>
<text x="259.30" y="501.10" font-size="7.5" font-weight="bold" stroke="#000" stroke-width="0.36" textLength="19.70" lengthAdjust="spacingAndGlyphs">19.6%</text>
<g clip-path="url(#g0)">
<path d="M53.30 548.60C52.60 546.77 53.28 541.82 53.80 539.60C54.32 537.38 55.25 536.45 56.40 535.30C57.55 534.15 59.78 534.28 60.70 532.70C61.62 531.12 61.47 528.12 61.90 525.80C62.33 523.48 62.48 520.50 63.30 518.80C64.12 517.10 65.78 515.88 66.80 515.60C67.82 515.32 68.83 515.70 69.40 517.10C69.97 518.50 70.20 521.68 70.20 524.00C70.20 526.32 69.53 528.98 69.40 531.00C69.27 533.02 69.83 534.38 69.40 536.10C68.97 537.82 67.82 539.22 66.80 541.30C65.78 543.38 64.77 547.05 63.30 548.60C61.83 550.15 59.67 550.60 58.00 550.60C56.33 550.60 54.00 550.43 53.30 548.60Z" stroke="#101010" stroke-width="1.1" fill="#8a8a8a" />
<path d="M54.86 546.14C54.27 544.60 54.85 540.44 55.28 538.58C55.71 536.72 56.50 535.93 57.46 534.97C58.43 534.00 60.31 534.11 61.08 532.78C61.85 531.45 61.72 528.93 62.08 526.99C62.45 525.04 62.57 522.54 63.26 521.11C63.95 519.68 65.35 518.66 66.20 518.42C67.05 518.18 67.91 518.50 68.38 519.68C68.86 520.86 69.06 523.53 69.06 525.48C69.06 527.42 68.50 529.66 68.38 531.36C68.27 533.05 68.75 534.20 68.38 535.64C68.02 537.08 67.05 538.26 66.20 540.01C65.35 541.76 64.49 544.84 63.26 546.14C62.03 547.44 60.21 547.82 58.81 547.82C57.41 547.82 55.45 547.68 54.86 546.14Z" stroke="#f2f2f2" stroke-width="0.9" fill="none" />
<path d="M56.42 543.68C55.94 542.43 56.41 539.07 56.76 537.56C57.11 536.05 57.75 535.42 58.53 534.63C59.31 533.85 60.83 533.94 61.45 532.87C62.08 531.79 61.97 529.75 62.27 528.17C62.56 526.60 62.66 524.57 63.22 523.41C63.78 522.26 64.91 521.43 65.60 521.24C66.29 521.05 66.98 521.31 67.37 522.26C67.75 523.21 67.91 525.38 67.91 526.95C67.91 528.53 67.46 530.34 67.37 531.71C67.28 533.08 67.66 534.01 67.37 535.18C67.07 536.35 66.29 537.30 65.60 538.71C64.91 540.13 64.22 542.62 63.22 543.68C62.22 544.73 60.75 545.04 59.62 545.04C58.48 545.04 56.90 544.93 56.42 543.68Z" stroke="#0e0e0e" stroke-width="0.7" fill="none" />
<path d="M58.17 540.91C57.82 539.99 58.17 537.52 58.42 536.41C58.68 535.30 59.15 534.84 59.73 534.26C60.30 533.69 61.42 533.75 61.88 532.96C62.33 532.17 62.26 530.67 62.48 529.51C62.69 528.35 62.77 526.86 63.17 526.01C63.58 525.16 64.42 524.55 64.92 524.41C65.43 524.27 65.94 524.46 66.23 525.16C66.51 525.86 66.62 527.45 66.62 528.61C66.62 529.77 66.29 531.10 66.23 532.11C66.16 533.12 66.44 533.80 66.23 534.66C66.01 535.52 65.43 536.22 64.92 537.26C64.42 538.30 63.91 540.14 63.17 540.91C62.44 541.69 61.36 541.91 60.53 541.91C59.69 541.91 58.52 541.83 58.17 540.91Z" stroke="#ededed" stroke-width="0.8" fill="none" />
<ellipse cx="65.40" cy="523.60" rx="2.70" ry="6.40" transform="rotate(4 65.40 523.60)" fill="#6e6e6e" stroke="#141414" stroke-width="0.65"/>
<ellipse cx="65.40" cy="523.60" rx="1.89" ry="4.48" transform="rotate(4 65.40 523.60)" fill="#4c4c4c" stroke="#e4e4e4" stroke-width="0.5"/>
<ellipse cx="65.40" cy="523.60" rx="1.35" ry="3.20" transform="rotate(4 65.40 523.60)" fill="#080808" stroke="none" stroke-width="0.5"/>
<ellipse cx="58.00" cy="542.00" rx="3.40" ry="5.00" transform="rotate(20 58.00 542.00)" fill="#6e6e6e" stroke="#141414" stroke-width="0.65"/>
<ellipse cx="58.00" cy="542.00" rx="2.38" ry="3.50" transform="rotate(20 58.00 542.00)" fill="#4c4c4c" stroke="#e4e4e4" stroke-width="0.5"/>
<ellipse cx="58.00" cy="542.00" rx="1.16" ry="1.70" transform="rotate(20 58.00 542.00)" fill="#080808" stroke="none" stroke-width="0.5"/>
</g>
<g clip-path="url(#g1)">
<path d="M113.80 548.60C113.18 546.77 113.78 542.25 114.30 539.60C114.82 536.95 115.73 534.57 116.90 532.70C118.07 530.83 120.28 530.13 121.30 528.40C122.32 526.67 122.28 524.33 123.00 522.30C123.72 520.27 124.45 517.53 125.60 516.20C126.75 514.87 128.83 514.15 129.90 514.30C130.97 514.45 131.72 515.48 132.00 517.10C132.28 518.72 131.95 521.68 131.60 524.00C131.25 526.32 130.33 528.98 129.90 531.00C129.47 533.02 129.72 534.23 129.00 536.10C128.28 537.97 126.75 540.12 125.60 542.20C124.45 544.28 123.37 547.20 122.10 548.60C120.83 550.00 119.38 550.60 118.00 550.60C116.62 550.60 114.42 550.43 113.80 548.60Z" stroke="#101010" stroke-width="1.1" fill="#8a8a8a" />
<path d="M115.40 545.99C114.88 544.45 115.38 540.65 115.82 538.43C116.25 536.20 117.02 534.20 118.00 532.63C118.98 531.06 120.84 530.47 121.70 529.02C122.55 527.56 122.52 525.60 123.13 523.89C123.73 522.19 124.34 519.89 125.31 518.77C126.28 517.65 128.03 517.05 128.92 517.17C129.82 517.30 130.45 518.17 130.69 519.53C130.92 520.88 130.64 523.38 130.35 525.32C130.06 527.27 129.29 529.51 128.92 531.20C128.56 532.90 128.77 533.92 128.17 535.49C127.56 537.05 126.28 538.86 125.31 540.61C124.34 542.36 123.43 544.81 122.37 545.99C121.31 547.16 120.09 547.67 118.93 547.67C117.76 547.67 115.92 547.53 115.40 545.99Z" stroke="#f2f2f2" stroke-width="0.9" fill="none" />
<path d="M117.00 543.37C116.58 542.13 116.98 539.05 117.34 537.25C117.69 535.45 118.31 533.83 119.10 532.56C119.90 531.29 121.40 530.82 122.10 529.64C122.79 528.46 122.76 526.87 123.25 525.49C123.74 524.11 124.24 522.25 125.02 521.34C125.80 520.43 127.22 519.95 127.94 520.05C128.67 520.15 129.18 520.85 129.37 521.95C129.56 523.05 129.34 525.07 129.10 526.64C128.86 528.22 128.24 530.03 127.94 531.40C127.65 532.78 127.82 533.60 127.33 534.87C126.84 536.14 125.80 537.60 125.02 539.02C124.24 540.44 123.50 542.42 122.64 543.37C121.78 544.32 120.79 544.73 119.85 544.73C118.91 544.73 117.41 544.62 117.00 543.37Z" stroke="#0e0e0e" stroke-width="0.7" fill="none" />
<path d="M118.79 540.43C118.48 539.52 118.78 537.26 119.04 535.93C119.30 534.61 119.76 533.42 120.34 532.48C120.93 531.55 122.03 531.20 122.54 530.33C123.05 529.47 123.03 528.30 123.39 527.28C123.75 526.27 124.12 524.90 124.69 524.23C125.27 523.57 126.31 523.21 126.84 523.28C127.38 523.36 127.75 523.87 127.89 524.68C128.03 525.49 127.87 526.97 127.69 528.13C127.52 529.29 127.06 530.62 126.84 531.63C126.63 532.64 126.75 533.25 126.39 534.18C126.03 535.12 125.27 536.19 124.69 537.23C124.12 538.27 123.58 539.73 122.94 540.43C122.31 541.13 121.58 541.43 120.89 541.43C120.20 541.43 119.10 541.35 118.79 540.43Z" stroke="#ededed" stroke-width="0.8" fill="none" />
<ellipse cx="128.20" cy="522.60" rx="2.20" ry="6.40" transform="rotate(12 128.20 522.60)" fill="#6e6e6e" stroke="#141414" stroke-width="0.65"/>
<ellipse cx="128.20" cy="522.60" rx="1.54" ry="4.48" transform="rotate(12 128.20 522.60)" fill="#4c4c4c" stroke="#e4e4e4" stroke-width="0.5"/>
<ellipse cx="128.20" cy="522.60" rx="0.92" ry="2.69" transform="rotate(12 128.20 522.60)" fill="#080808" stroke="none" stroke-width="0.5"/>
<ellipse cx="118.90" cy="541.40" rx="3.20" ry="5.40" transform="rotate(22 118.90 541.40)" fill="#6e6e6e" stroke="#141414" stroke-width="0.65"/>
<ellipse cx="118.90" cy="541.40" rx="2.24" ry="3.78" transform="rotate(22 118.90 541.40)" fill="#4c4c4c" stroke="#e4e4e4" stroke-width="0.5"/>
<ellipse cx="118.90" cy="541.40" rx="1.09" ry="1.84" transform="rotate(22 118.90 541.40)" fill="#080808" stroke="none" stroke-width="0.5"/>
</g>
<g clip-path="url(#g2)">
<path d="M173.50 548.60C172.83 546.77 172.72 542.12 173.00 539.60C173.28 537.08 174.10 535.37 175.20 533.50C176.30 531.63 178.43 530.42 179.60 528.40C180.77 526.38 181.33 523.57 182.20 521.40C183.07 519.23 183.85 516.93 184.80 515.40C185.75 513.87 186.90 512.20 187.90 512.20C188.90 512.20 190.03 513.87 190.80 515.40C191.57 516.93 192.42 519.10 192.50 521.40C192.58 523.70 191.87 526.88 191.30 529.20C190.73 531.52 190.05 533.42 189.10 535.30C188.15 537.18 186.75 538.77 185.60 540.50C184.45 542.23 183.07 544.32 182.20 545.70C181.33 547.08 181.27 547.98 180.40 548.80C179.53 549.62 178.15 550.63 177.00 550.60C175.85 550.57 174.17 550.43 173.50 548.60Z" stroke="#101010" stroke-width="1.1" fill="#8a8a8a" />
<path d="M175.02 546.01C174.46 544.47 174.36 540.56 174.60 538.45C174.84 536.33 175.53 534.89 176.45 533.32C177.37 531.76 179.17 530.73 180.15 529.04C181.13 527.35 181.60 524.98 182.33 523.16C183.06 521.34 183.72 519.41 184.51 518.12C185.31 516.83 186.28 515.43 187.12 515.43C187.96 515.43 188.91 516.83 189.55 518.12C190.20 519.41 190.91 521.23 190.98 523.16C191.05 525.09 190.45 527.77 189.97 529.71C189.50 531.66 188.92 533.25 188.13 534.84C187.33 536.42 186.15 537.75 185.19 539.20C184.22 540.66 183.06 542.41 182.33 543.57C181.60 544.73 181.55 545.49 180.82 546.18C180.09 546.86 178.93 547.72 177.96 547.69C177.00 547.66 175.58 547.55 175.02 546.01Z" stroke="#f2f2f2" stroke-width="0.9" fill="none" />
<path d="M176.54 543.42C176.09 542.17 176.01 539.01 176.20 537.30C176.39 535.58 176.95 534.42 177.70 533.15C178.45 531.88 179.90 531.05 180.69 529.68C181.48 528.31 181.87 526.39 182.46 524.92C183.05 523.45 183.58 521.88 184.23 520.84C184.87 519.80 185.65 518.66 186.33 518.66C187.01 518.66 187.78 519.80 188.31 520.84C188.83 521.88 189.41 523.36 189.46 524.92C189.52 526.48 189.03 528.65 188.65 530.22C188.26 531.80 187.80 533.09 187.15 534.37C186.50 535.65 185.55 536.73 184.77 537.91C183.99 539.09 183.05 540.50 182.46 541.44C181.87 542.38 181.82 543.00 181.23 543.55C180.64 544.11 179.70 544.80 178.92 544.78C178.14 544.75 177.00 544.66 176.54 543.42Z" stroke="#0e0e0e" stroke-width="0.7" fill="none" />
<path d="M178.25 540.50C177.92 539.58 177.86 537.26 178.00 536.00C178.14 534.74 178.55 533.88 179.10 532.95C179.65 532.02 180.72 531.41 181.30 530.40C181.89 529.39 182.17 527.98 182.60 526.90C183.04 525.82 183.43 524.67 183.90 523.90C184.38 523.13 184.95 522.30 185.45 522.30C185.95 522.30 186.52 523.13 186.90 523.90C187.29 524.67 187.71 525.75 187.75 526.90C187.79 528.05 187.44 529.64 187.15 530.80C186.87 531.96 186.53 532.91 186.05 533.85C185.58 534.79 184.88 535.58 184.30 536.45C183.73 537.32 183.04 538.36 182.60 539.05C182.17 539.74 182.14 540.19 181.70 540.60C181.27 541.01 180.58 541.52 180.00 541.50C179.43 541.48 178.59 541.42 178.25 540.50Z" stroke="#ededed" stroke-width="0.8" fill="none" />
<ellipse cx="187.00" cy="522.40" rx="2.60" ry="7.40" transform="rotate(14 187.00 522.40)" fill="#6e6e6e" stroke="#141414" stroke-width="0.65"/>
<ellipse cx="187.00" cy="522.40" rx="1.82" ry="5.18" transform="rotate(14 187.00 522.40)" fill="#4c4c4c" stroke="#e4e4e4" stroke-width="0.5"/>
<ellipse cx="187.00" cy="522.40" rx="0.99" ry="2.81" transform="rotate(14 187.00 522.40)" fill="#080808" stroke="none" stroke-width="0.5"/>
<ellipse cx="177.20" cy="541.80" rx="3.20" ry="5.20" transform="rotate(24 177.20 541.80)" fill="#6e6e6e" stroke="#141414" stroke-width="0.65"/>
<ellipse cx="177.20" cy="541.80" rx="2.24" ry="3.64" transform="rotate(24 177.20 541.80)" fill="#4c4c4c" stroke="#e4e4e4" stroke-width="0.5"/>
<ellipse cx="177.20" cy="541.80" rx="1.44" ry="2.34" transform="rotate(24 177.20 541.80)" fill="#080808" stroke="none" stroke-width="0.5"/>
</g>
<g clip-path="url(#g3)">
<path d="M231.80 548.60C231.05 546.77 231.12 542.12 231.50 539.60C231.88 537.08 232.95 535.37 234.10 533.50C235.25 531.63 237.25 530.27 238.40 528.40C239.55 526.53 240.13 524.33 241.00 522.30C241.87 520.27 242.45 517.80 243.60 516.20C244.75 514.60 246.83 512.70 247.90 512.70C248.97 512.70 249.72 514.32 250.00 516.20C250.28 518.08 249.95 521.53 249.60 524.00C249.25 526.47 248.47 528.83 247.90 531.00C247.33 533.17 247.07 535.13 246.20 537.00C245.33 538.87 243.72 540.23 242.70 542.20C241.68 544.17 241.22 547.40 240.10 548.80C238.98 550.20 237.38 550.63 236.00 550.60C234.62 550.57 232.55 550.43 231.80 548.60Z" stroke="#101010" stroke-width="1.1" fill="#8a8a8a" />
<path d="M233.35 545.98C232.72 544.44 232.78 540.53 233.10 538.42C233.42 536.31 234.32 534.86 235.28 533.30C236.25 531.73 237.93 530.58 238.89 529.01C239.86 527.44 240.35 525.60 241.08 523.89C241.81 522.18 242.30 520.11 243.26 518.76C244.23 517.42 245.98 515.82 246.87 515.82C247.77 515.82 248.40 517.18 248.64 518.76C248.88 520.35 248.60 523.24 248.30 525.32C248.01 527.39 247.35 529.38 246.87 531.20C246.40 533.02 246.17 534.67 245.45 536.24C244.72 537.80 243.36 538.95 242.51 540.60C241.65 542.26 241.26 544.97 240.32 546.15C239.38 547.32 238.04 547.69 236.88 547.66C235.72 547.63 233.98 547.52 233.35 545.98Z" stroke="#f2f2f2" stroke-width="0.9" fill="none" />
<path d="M234.90 543.36C234.39 542.11 234.43 538.95 234.70 537.24C234.96 535.53 235.68 534.36 236.46 533.09C237.25 531.82 238.61 530.89 239.39 529.62C240.17 528.35 240.57 526.86 241.16 525.47C241.74 524.09 242.14 522.41 242.92 521.33C243.71 520.24 245.12 518.95 245.85 518.95C246.57 518.95 247.08 520.05 247.28 521.33C247.47 522.61 247.24 524.95 247.00 526.63C246.77 528.31 246.23 529.92 245.85 531.39C245.46 532.86 245.28 534.20 244.69 535.47C244.10 536.74 243.00 537.67 242.31 539.01C241.62 540.34 241.30 542.54 240.54 543.49C239.78 544.45 238.70 544.74 237.76 544.72C236.81 544.70 235.41 544.61 234.90 543.36Z" stroke="#0e0e0e" stroke-width="0.7" fill="none" />
<path d="M236.64 540.41C236.27 539.49 236.30 537.17 236.49 535.91C236.68 534.65 237.22 533.79 237.79 532.86C238.37 531.93 239.37 531.24 239.94 530.31C240.52 529.38 240.81 528.28 241.24 527.26C241.68 526.24 241.97 525.01 242.54 524.21C243.12 523.41 244.16 522.46 244.69 522.46C245.23 522.46 245.60 523.27 245.74 524.21C245.88 525.15 245.72 526.88 245.54 528.11C245.37 529.34 244.98 530.53 244.69 531.61C244.41 532.69 244.28 533.68 243.84 534.61C243.41 535.54 242.60 536.23 242.09 537.21C241.58 538.19 241.35 539.81 240.79 540.51C240.23 541.21 239.43 541.43 238.74 541.41C238.05 541.39 237.02 541.33 236.64 540.41Z" stroke="#ededed" stroke-width="0.8" fill="none" />
<ellipse cx="245.60" cy="523.60" rx="2.20" ry="7.00" transform="rotate(14 245.60 523.60)" fill="#6e6e6e" stroke="#141414" stroke-width="0.65"/>
<ellipse cx="245.60" cy="523.60" rx="1.54" ry="4.90" transform="rotate(14 245.60 523.60)" fill="#4c4c4c" stroke="#e4e4e4" stroke-width="0.5"/>
<ellipse cx="245.60" cy="523.60" rx="0.88" ry="2.80" transform="rotate(14 245.60 523.60)" fill="#080808" stroke="none" stroke-width="0.5"/>
<ellipse cx="236.20" cy="541.40" rx="3.20" ry="5.20" transform="rotate(24 236.20 541.40)" fill="#6e6e6e" stroke="#141414" stroke-width="0.65"/>
<ellipse cx="236.20" cy="541.40" rx="2.24" ry="3.64" transform="rotate(24 236.20 541.40)" fill="#4c4c4c" stroke="#e4e4e4" stroke-width="0.5"/>
<ellipse cx="236.20" cy="541.40" rx="1.28" ry="2.08" transform="rotate(24 236.20 541.40)" fill="#080808" stroke="none" stroke-width="0.5"/>
</g>
<path d="M41.80 504.60L41.80 520.00" stroke="#000" stroke-width="1.3" fill="none"/>
<polygon points="41.8,498.0 45.7,507.0 41.8,505.0 37.9,507.0" fill="#000"/>
<text x="44.60" y="543.20" font-size="8.7" font-weight="bold" stroke="#000" stroke-width="0.36" textLength="18.00" lengthAdjust="spacingAndGlyphs" transform="rotate(-90 44.60 543.20)">IL-17</text>
<text x="51.90" y="559.20" font-size="8.7" font-weight="bold" stroke="#000" stroke-width="0.36" textLength="29.00" lengthAdjust="spacingAndGlyphs">TCR-γδ</text>
<path d="M90.00 556.40L274.60 556.40" stroke="#000" stroke-width="1.3" fill="none"/>
<polygon points="282.2,556.4 272.6,552.3 274.8,556.4 272.6,560.5" fill="#000"/>
<path d="M327.10 459.60L327.10 564.00" stroke="#000" stroke-width="1.0" fill="none"/>
<path d="M324.30 460.00L327.10 460.00" stroke="#000" stroke-width="0.9" fill="none"/>
<text x="323.80" y="462.52" font-size="7.0" font-weight="bold" stroke="#000" stroke-width="0.36" text-anchor="end">8</text>
<path d="M324.30 486.00L327.10 486.00" stroke="#000" stroke-width="0.9" fill="none"/>
<text x="323.80" y="488.52" font-size="7.0" font-weight="bold" stroke="#000" stroke-width="0.36" text-anchor="end">6</text>
<path d="M324.30 511.60L327.10 511.60" stroke="#000" stroke-width="0.9" fill="none"/>
<text x="323.80" y="514.12" font-size="7.0" font-weight="bold" stroke="#000" stroke-width="0.36" text-anchor="end">4</text>
<path d="M324.30 537.50L327.10 537.50" stroke="#000" stroke-width="0.9" fill="none"/>
<text x="323.80" y="540.02" font-size="7.0" font-weight="bold" stroke="#000" stroke-width="0.36" text-anchor="end">2</text>
<path d="M324.30 563.40L327.10 563.40" stroke="#000" stroke-width="0.9" fill="none"/>
<text x="323.80" y="565.92" font-size="7.0" font-weight="bold" stroke="#000" stroke-width="0.36" text-anchor="end">0</text>
<text x="312.90" y="559.20" font-size="6.1" font-weight="bold" stroke="#000" stroke-width="0.36" textLength="92.80" lengthAdjust="spacing" transform="rotate(-90 312.90 559.20)">Relative mRNA expression</text>
<path d="M326.60 563.50L482.80 563.50" stroke="#000" stroke-width="1.0" fill="none"/>
<rect x="337.55" y="551.35" width="13.30" height="12.15" fill="#fff" stroke="#000" stroke-width="1.15"/>
<path d="M340.60 550.40L347.80 550.40" stroke="#333" stroke-width="0.7" fill="none"/>
<path d="M365.60 532.50L365.60 538.20" stroke="#333" stroke-width="0.8" fill="none"/>
<path d="M362.30 532.50L368.90 532.50" stroke="#333" stroke-width="0.8" fill="none"/>
<rect x="359.05" y="538.35" width="13.00" height="25.15" fill="#7c7c7c" stroke="#1c1c1c" stroke-width="1.1"/>
<rect x="379.60" y="531.00" width="14.50" height="32.50" fill="#000" stroke="none" stroke-width="0"/>
<path d="M383.00 530.40L390.80 530.40" stroke="#444" stroke-width="0.7" fill="none"/>
<path d="M422.20 545.80L422.20 549.80" stroke="#333" stroke-width="0.8" fill="none"/>
<path d="M419.00 545.80L425.40 545.80" stroke="#333" stroke-width="0.8" fill="none"/>
<rect x="415.65" y="549.95" width="13.20" height="13.55" fill="#fff" stroke="#000" stroke-width="1.15"/>
<path d="M443.50 538.50L443.50 542.20" stroke="#333" stroke-width="0.8" fill="none"/>
<path d="M440.30 538.50L446.70 538.50" stroke="#333" stroke-width="0.8" fill="none"/>
<rect x="436.75" y="542.45" width="13.60" height="21.05" fill="#7c7c7c" stroke="#1c1c1c" stroke-width="1.1"/>
<path d="M464.60 482.00L464.60 497.40" stroke="#333" stroke-width="0.8" fill="none"/>
<path d="M461.30 482.00L467.90 482.00" stroke="#333" stroke-width="0.8" fill="none"/>
<rect x="456.90" y="497.00" width="15.30" height="66.50" fill="#000" stroke="none" stroke-width="0"/>
<path d="M343.60 530.10L343.60 527.70L365.30 527.70L365.30 530.10" stroke="#555" stroke-width="0.95" fill="none" />
<path d="M343.60 522.20L343.60 519.80L386.60 519.80L386.60 522.20" stroke="#555" stroke-width="0.95" fill="none" />
<path d="M421.60 480.20L421.60 477.60L464.70 477.60L464.70 480.20" stroke="#555" stroke-width="0.95" fill="none" />
<polygon points="353.80,521.40 354.49,523.25 356.46,523.33 354.92,524.56 355.45,526.47 353.80,525.38 352.15,526.47 352.68,524.56 351.14,523.33 353.11,523.25" fill="#000"/>
<polygon points="361.90,514.00 362.59,515.85 364.56,515.93 363.02,517.16 363.55,519.07 361.90,517.98 360.25,519.07 360.78,517.16 359.24,515.93 361.21,515.85" fill="#000"/>
<polygon points="367.30,514.00 367.99,515.85 369.96,515.93 368.42,517.16 368.95,519.07 367.30,517.98 365.65,519.07 366.18,517.16 364.64,515.93 366.61,515.85" fill="#000"/>
<polygon points="440.60,470.00 441.29,471.85 443.26,471.93 441.72,473.16 442.25,475.07 440.60,473.98 438.95,475.07 439.48,473.16 437.94,471.93 439.91,471.85" fill="#000"/>
<path d="M365.30 563.50L365.30 566.40" stroke="#000" stroke-width="0.9" fill="none"/>
<path d="M443.40 563.50L443.40 566.40" stroke="#000" stroke-width="0.9" fill="none"/>
<text x="356.40" y="573.40" font-size="7.0" font-weight="bold" stroke="#000" stroke-width="0.36" textLength="18.60" lengthAdjust="spacingAndGlyphs">IL-1<tspan font-weight="normal" fill="#333" stroke="#333" stroke-width="0.12">β</tspan></text>
<text x="434.50" y="573.60" font-size="7.0" font-weight="bold" stroke="#000" stroke-width="0.36" textLength="17.90" lengthAdjust="spacingAndGlyphs">IL-23</text>
<rect x="333.10" y="459.40" width="11.40" height="6.00" fill="#fff" stroke="#000" stroke-width="0.9"/>
<rect x="333.10" y="471.20" width="11.40" height="5.90" fill="#7c7c7c" stroke="#222" stroke-width="0.9"/>
<rect x="332.70" y="482.60" width="12.20" height="6.70" fill="#000" stroke="none" stroke-width="0"/>
<text x="350.40" y="465.60" font-size="9.3" stroke="#000" stroke-width="0.12" textLength="28.80" lengthAdjust="spacingAndGlyphs">0 ng/mL</text>
<text x="350.40" y="477.30" font-size="9.3" stroke="#000" stroke-width="0.12" textLength="33.40" lengthAdjust="spacingAndGlyphs">10 ng/mL</text>
<text x="350.40" y="489.00" font-size="9.3" stroke="#000" stroke-width="0.12" textLength="38.60" lengthAdjust="spacingAndGlyphs">100 ng/mL</text>
</g>
<g shape-rendering="crispEdges">
<rect x="0" y="0" width="520" height="1" fill="#5a5a5a"/><rect x="1" y="1" width="518" height="1" fill="#c0c0c0"/>
<rect x="0" y="0" width="1" height="594" fill="#5a5a5a"/><rect x="1" y="1" width="1" height="592" fill="#b4b4b4"/>
<rect x="519" y="0" width="1" height="594" fill="#5a5a5a"/><rect x="518" y="1" width="1" height="592" fill="#8c8c8c"/>
<rect x="0" y="593" width="520" height="1" fill="#5a5a5a"/><rect x="1" y="592" width="518" height="1" fill="#8c8c8c"/>
</g>
</svg>
</body></html>
